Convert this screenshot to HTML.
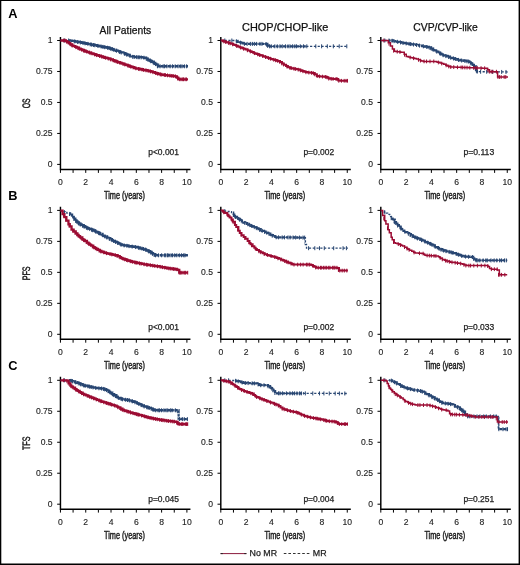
<!DOCTYPE html>
<html><head><meta charset="utf-8"><style>
html,body{margin:0;padding:0;background:#fff;}
body{width:520px;height:565px;overflow:hidden;font-family:"Liberation Sans",sans-serif;}
svg{display:block;will-change:transform;filter:blur(0.3px);}
</style></head><body>
<svg width="520" height="565" viewBox="0 0 520 565"><defs><clipPath id="cp00"><rect x="69" y="30.5" width="119" height="140"/></clipPath><clipPath id="cp01"><rect x="236" y="30.5" width="70" height="140"/></clipPath><clipPath id="cp02"><rect x="389" y="30.5" width="89" height="140"/></clipPath><clipPath id="cp10"><rect x="69" y="200.4" width="119" height="140"/></clipPath><clipPath id="cp11"><rect x="233" y="200.4" width="71.5" height="140"/></clipPath><clipPath id="cp12"><rect x="391" y="200.4" width="116.5" height="140"/></clipPath><clipPath id="cp20"><rect x="69" y="370.3" width="108.5" height="140"/><rect x="178.5" y="370.3" width="9.5" height="140"/></clipPath><clipPath id="cp21"><rect x="235" y="370.3" width="69" height="140"/></clipPath><clipPath id="cp22"><rect x="389" y="370.3" width="108" height="140"/><rect x="498.2" y="370.3" width="9.8" height="140"/></clipPath></defs><rect x="0" y="0" width="520" height="565" fill="#fff"/><path d="M0,0H520V565H0Z M1.3,1.1V563.4H518.6V1.1Z" fill="#000" fill-rule="evenodd"/><text x="8.2" y="18.2" font-family="'Liberation Sans', sans-serif" font-weight="bold" font-size="12.8">A</text><text x="8.2" y="199.6" font-family="'Liberation Sans', sans-serif" font-weight="bold" font-size="12.8">B</text><text x="8.2" y="369.8" font-family="'Liberation Sans', sans-serif" font-weight="bold" font-size="12.8">C</text><text x="99.6" y="33.9" font-family="'Liberation Sans', sans-serif" font-size="10.6" textLength="51.6" lengthAdjust="spacingAndGlyphs" fill="#111" stroke="#111" stroke-width="0.25">All Patients</text><text x="242.1" y="30.7" font-family="'Liberation Sans', sans-serif" font-size="10.6" textLength="86.2" lengthAdjust="spacingAndGlyphs" fill="#111" stroke="#111" stroke-width="0.25">CHOP/CHOP-like</text><text x="413.3" y="30.7" font-family="'Liberation Sans', sans-serif" font-size="10.6" textLength="64.4" lengthAdjust="spacingAndGlyphs" fill="#111" stroke="#111" stroke-width="0.25">CVP/CVP-like</text><g><path d="M60.45,36.9V169.5H190.45" fill="none" stroke="#000" stroke-width="1.45"/><path d="M57.15,40.5H60.45M57.15,71.47H60.45M57.15,102.45H60.45M57.15,133.43H60.45M57.15,164.4H60.45M60.45,169.5V172.9M73.09,169.5V172.9M85.74,169.5V172.9M98.39,169.5V172.9M111.03,169.5V172.9M123.67,169.5V172.9M136.32,169.5V172.9M148.97,169.5V172.9M161.61,169.5V172.9M174.25,169.5V172.9M186.9,169.5V172.9" fill="none" stroke="#000" stroke-width="1"/><text x="52.65" y="43.25" font-family="'Liberation Sans', sans-serif" font-size="8.6" text-anchor="end" fill="#222" stroke="#222" stroke-width="0.12">1</text><text x="52.65" y="74.22" font-family="'Liberation Sans', sans-serif" font-size="8.6" text-anchor="end" fill="#222" stroke="#222" stroke-width="0.12">0.75</text><text x="52.65" y="105.2" font-family="'Liberation Sans', sans-serif" font-size="8.6" text-anchor="end" fill="#222" stroke="#222" stroke-width="0.12">0.5</text><text x="52.65" y="136.18" font-family="'Liberation Sans', sans-serif" font-size="8.6" text-anchor="end" fill="#222" stroke="#222" stroke-width="0.12">0.25</text><text x="52.65" y="167.15" font-family="'Liberation Sans', sans-serif" font-size="8.6" text-anchor="end" fill="#222" stroke="#222" stroke-width="0.12">0</text><text x="60.45" y="184.8" font-family="'Liberation Sans', sans-serif" font-size="8.6" text-anchor="middle" fill="#222" stroke="#222" stroke-width="0.12">0</text><text x="85.74" y="184.8" font-family="'Liberation Sans', sans-serif" font-size="8.6" text-anchor="middle" fill="#222" stroke="#222" stroke-width="0.12">2</text><text x="111.03" y="184.8" font-family="'Liberation Sans', sans-serif" font-size="8.6" text-anchor="middle" fill="#222" stroke="#222" stroke-width="0.12">4</text><text x="136.32" y="184.8" font-family="'Liberation Sans', sans-serif" font-size="8.6" text-anchor="middle" fill="#222" stroke="#222" stroke-width="0.12">6</text><text x="161.61" y="184.8" font-family="'Liberation Sans', sans-serif" font-size="8.6" text-anchor="middle" fill="#222" stroke="#222" stroke-width="0.12">8</text><text x="186.9" y="184.8" font-family="'Liberation Sans', sans-serif" font-size="8.6" text-anchor="middle" fill="#222" stroke="#222" stroke-width="0.12">10</text><text transform="translate(124.45,199.2) scale(0.705,1)" font-family="'Liberation Sans', sans-serif" font-size="10.4" text-anchor="middle" fill="#1a1a1a" stroke="#1a1a1a" stroke-width="0.45">Time (years)</text><text x="148.2" y="154.6" font-family="'Liberation Sans', sans-serif" font-size="8.6" textLength="30.8" lengthAdjust="spacingAndGlyphs" fill="#222" stroke="#222" stroke-width="0.25">p<0.001</text><path d="M60.45,40.5 L61.58,40.5 L63.63,40.5 L65.56,40.5 L66.85,40.5 L68.44,40.5 L69.98,40.5 L69.98,40.6 L71.77,40.6 L71.77,40.92 L73.74,40.92 L73.74,41.28 L74.82,41.28 L74.82,41.47 L75.82,41.47 L75.82,41.65 L77.85,41.65 L77.85,42.01 L79.36,42.01 L79.36,42.28 L81.3,42.28 L81.3,42.62 L82.26,42.62 L82.26,42.8 L83.79,42.8 L83.79,43.08 L85.68,43.08 L85.68,43.45 L86.93,43.45 L86.93,43.7 L89.1,43.7 L89.1,44.13 L91.21,44.13 L91.21,44.55 L92.21,44.55 L92.21,44.75 L93.2,44.75 L93.2,44.95 L94.86,44.95 L94.86,45.27 L97.02,45.27 L97.02,45.7 L98.47,45.7 L98.47,45.98 L99.7,45.98 L99.7,46.22 L101.21,46.22 L101.21,46.52 L102.2,46.52 L102.2,46.71 L103.45,46.71 L103.45,46.95 L104.97,46.95 L104.97,47.25 L106.56,47.25 L106.56,47.56 L107.82,47.56 L107.82,47.81 L109.08,47.81 L109.08,48.1 L110.32,48.1 L110.32,48.55 L111.86,48.55 L111.86,49.11 L113.19,49.11 L113.19,49.6 L114.18,49.6 L114.18,49.96 L116.21,49.96 L116.21,50.7 L117.89,50.7 L117.89,51.3 L119.67,51.3 L119.67,51.95 L120.87,51.95 L120.87,52.39 L123.1,52.39 L123.1,53.22 L125.16,53.22 L125.16,54 L126.27,54 L126.27,54.42 L127.66,54.42 L127.66,54.95 L129.54,54.95 L129.54,55.66 L131.41,55.66 L131.41,56.37 L133.57,56.37 L133.57,56.94 L135.07,56.94 L135.07,57.03 L137.09,57.03 L137.09,57.14 L138.91,57.14 L138.91,57.24 L140.26,57.24 L140.26,57.32 L141.97,57.32 L141.97,57.41 L144.06,57.41 L144.06,57.78 L146.1,57.78 L146.1,58.78 L147.71,58.78 L147.71,59.57 L149.43,59.57 L149.43,60.46 L150.43,60.46 L150.43,61.06 L151.7,61.06 L151.7,61.82 L153.68,61.82 L153.68,63.01 L155.17,63.01 L155.17,63.9 L156.35,63.9 L156.35,64.61 L158.01,64.61 L158.01,66.3 L159.87,66.3 L161.7,66.3 L163.14,66.3 L164.66,66.3 L166.27,66.3 L168.23,66.3 L169.85,66.3 L171.32,66.3 L172.9,66.3 L173.9,66.3 L174.92,66.3 L176.78,66.3 L179,66.3 L180.72,66.3 L182.18,66.3 L183.36,66.3 L184.96,66.3 L187.18,66.3 L188,66.3" fill="none" stroke="#284672" stroke-width="1.3" stroke-dasharray="2.2,1.6"/><path d="M60.45,40.5 L61.58,40.5 L63.63,40.5 L65.56,40.5 L66.85,40.5 L68.44,40.5 L69.98,40.5 L69.98,40.6 L71.77,40.6 L71.77,40.92 L73.74,40.92 L73.74,41.28 L74.82,41.28 L74.82,41.47 L75.82,41.47 L75.82,41.65 L77.85,41.65 L77.85,42.01 L79.36,42.01 L79.36,42.28 L81.3,42.28 L81.3,42.62 L82.26,42.62 L82.26,42.8 L83.79,42.8 L83.79,43.08 L85.68,43.08 L85.68,43.45 L86.93,43.45 L86.93,43.7 L89.1,43.7 L89.1,44.13 L91.21,44.13 L91.21,44.55 L92.21,44.55 L92.21,44.75 L93.2,44.75 L93.2,44.95 L94.86,44.95 L94.86,45.27 L97.02,45.27 L97.02,45.7 L98.47,45.7 L98.47,45.98 L99.7,45.98 L99.7,46.22 L101.21,46.22 L101.21,46.52 L102.2,46.52 L102.2,46.71 L103.45,46.71 L103.45,46.95 L104.97,46.95 L104.97,47.25 L106.56,47.25 L106.56,47.56 L107.82,47.56 L107.82,47.81 L109.08,47.81 L109.08,48.1 L110.32,48.1 L110.32,48.55 L111.86,48.55 L111.86,49.11 L113.19,49.11 L113.19,49.6 L114.18,49.6 L114.18,49.96 L116.21,49.96 L116.21,50.7 L117.89,50.7 L117.89,51.3 L119.67,51.3 L119.67,51.95 L120.87,51.95 L120.87,52.39 L123.1,52.39 L123.1,53.22 L125.16,53.22 L125.16,54 L126.27,54 L126.27,54.42 L127.66,54.42 L127.66,54.95 L129.54,54.95 L129.54,55.66 L131.41,55.66 L131.41,56.37 L133.57,56.37 L133.57,56.94 L135.07,56.94 L135.07,57.03 L137.09,57.03 L137.09,57.14 L138.91,57.14 L138.91,57.24 L140.26,57.24 L140.26,57.32 L141.97,57.32 L141.97,57.41 L144.06,57.41 L144.06,57.78 L146.1,57.78 L146.1,58.78 L147.71,58.78 L147.71,59.57 L149.43,59.57 L149.43,60.46 L150.43,60.46 L150.43,61.06 L151.7,61.06 L151.7,61.82 L153.68,61.82 L153.68,63.01 L155.17,63.01 L155.17,63.9 L156.35,63.9 L156.35,64.61 L158.01,64.61 L158.01,66.3 L159.87,66.3 L161.7,66.3 L163.14,66.3 L164.66,66.3 L166.27,66.3 L168.23,66.3 L169.85,66.3 L171.32,66.3 L172.9,66.3 L173.9,66.3 L174.92,66.3 L176.78,66.3 L179,66.3 L180.72,66.3 L182.18,66.3 L183.36,66.3 L184.96,66.3 L187.18,66.3 L188,66.3" fill="none" stroke="#284672" stroke-width="2.4" stroke-dasharray="3,0.6" clip-path="url(#cp00)"/><path d="M64.45,38.5v4.0M68.65,38.5v4.0M74.85,39.47v4.0M77.65,39.97v4.0M80.3,40.45v4.0M83.01,40.93v4.0M85.07,41.33v4.0M87.93,41.9v4.0M90.2,42.35v4.0M91.47,42.6v4.0M93.58,43.02v4.0M94.78,43.26v4.0M97.94,43.88v4.0M101.12,44.5v4.0M102.96,44.86v4.0M104.74,45.21v4.0M107.53,45.75v4.0M109.08,46.1v4.0M110.57,46.64v4.0M112.08,47.19v4.0M113.95,47.87v4.0M116.42,48.77v4.0M119.64,49.94v4.0M121.21,50.51v4.0M124.41,51.72v4.0M126.73,52.6v4.0M129.82,53.77v4.0M132.72,54.87v4.0M134.17,54.98v4.0M136.69,55.12v4.0M138.07,55.2v4.0M139.18,55.26v4.0M141.15,55.37v4.0M143.95,55.72v4.0M146.3,56.87v4.0M147.82,57.62v4.0M150.77,59.26v4.0M153.88,61.13v4.0M155.5,62.1v4.0M157.59,64.3v4.0M160.09,64.3v4.0M163.18,64.3v4.0M164.56,64.3v4.0M166.88,64.3v4.0M170.11,64.3v4.0M172.55,64.3v4.0M175.22,64.3v4.0M178.03,64.3v4.0M180.25,64.3v4.0M181.98,64.3v4.0M184.38,64.3v4.0M186.64,64.3v4.0" fill="none" stroke="#284672" stroke-width="1"/><path d="M60.45,40.5 L62.49,40.5 L64.42,40.5 L65.92,40.5 L65.92,41.16 L67.21,41.16 L67.21,42.08 L68.83,42.08 L68.83,43.23 L70.3,43.23 L70.3,44.29 L72.27,44.29 L72.27,45.62 L73.62,45.62 L73.62,46.22 L75.19,46.22 L75.19,46.92 L76.89,46.92 L76.89,47.69 L79.01,47.69 L79.01,48.64 L80.62,48.64 L80.62,49.36 L81.94,49.36 L81.94,49.95 L83.87,49.95 L83.87,50.76 L85.62,50.76 L85.62,51.38 L86.9,51.38 L86.9,51.82 L89.03,51.82 L89.03,52.56 L91.24,52.56 L91.24,53.34 L93.24,53.34 L93.24,54.04 L95.35,54.04 L95.35,54.77 L96.71,54.77 L96.71,55.21 L98.61,55.21 L98.61,55.77 L100.72,55.77 L100.72,56.4 L102.55,56.4 L102.55,56.95 L104.12,56.95 L104.12,57.41 L105.21,57.41 L105.21,57.73 L106.72,57.73 L106.72,58.18 L108.46,58.18 L108.46,58.7 L110.59,58.7 L110.59,59.45 L112.79,59.45 L112.79,60.25 L114.36,60.25 L114.36,60.82 L116.43,60.82 L116.43,61.57 L117.72,61.57 L117.72,62.04 L119.71,62.04 L119.71,62.77 L121.37,62.77 L121.37,63.37 L122.35,63.37 L122.35,63.72 L124.23,63.72 L124.23,64.38 L125.7,64.38 L125.7,64.89 L127.72,64.89 L127.72,65.59 L129.53,65.59 L129.53,66.22 L130.5,66.22 L130.5,66.56 L132.09,66.56 L132.09,67.11 L134.16,67.11 L134.16,67.83 L135.43,67.83 L135.43,68.28 L136.81,68.28 L136.81,68.56 L138.88,68.56 L138.88,68.98 L140.08,68.98 L140.08,69.22 L141.77,69.22 L141.77,69.55 L143.04,69.55 L143.04,69.81 L145.24,69.81 L145.24,70.25 L147.22,70.25 L147.22,70.64 L148.76,70.64 L148.76,70.95 L149.82,70.95 L149.82,71.26 L151.19,71.26 L151.19,71.7 L152.8,71.7 L152.8,72.21 L154.95,72.21 L154.95,72.89 L156.05,72.89 L156.05,73.24 L157.72,73.24 L157.72,73.77 L159.58,73.77 L159.58,74.36 L161.24,74.36 L161.24,74.59 L163.25,74.59 L163.25,74.84 L164.9,74.84 L164.9,75.05 L167.09,75.05 L167.09,75.32 L168.82,75.32 L168.82,75.53 L170.54,75.53 L170.54,75.75 L172.07,75.75 L172.07,75.94 L173.79,75.94 L173.79,76.15 L175.24,76.15 L175.24,76.33 L176.94,76.33 L176.94,77.62 L178.27,77.62 L178.27,79.05 L179.47,79.05 L179.47,79.3 L180.67,79.3 L182.42,79.3 L184.22,79.3 L185.79,79.3 L186.86,79.3 L188,79.3" fill="none" stroke="#9C0C33" stroke-width="2.3"/><path d="M63.45,38.6v3.8M64.99,38.6v3.8M66.97,40.01v3.8M70.35,42.42v3.8M72.12,43.65v3.8M75.85,45.32v3.8M77.92,46.25v3.8M79.29,46.86v3.8M81.79,47.98v3.8M83.55,48.75v3.8M84.91,49.23v3.8M86.94,49.93v3.8M89.42,50.8v3.8M91.19,51.42v3.8M94.63,52.62v3.8M96.63,53.29v3.8M99.62,54.17v3.8M101.71,54.79v3.8M103.17,55.23v3.8M105.43,55.9v3.8M108.27,56.74v3.8M110.6,57.56v3.8M113.28,58.53v3.8M114.72,59.05v3.8M116.19,59.59v3.8M117.63,60.11v3.8M119.87,60.93v3.8M122.93,62.02v3.8M124.88,62.7v3.8M127.78,63.71v3.8M129.1,64.17v3.8M130.66,64.72v3.8M133.16,65.59v3.8M135.87,66.47v3.8M138.56,67.01v3.8M139.89,67.28v3.8M142.01,67.7v3.8M143.5,68v3.8M146,68.5v3.8M148.13,68.93v3.8M150.45,69.56v3.8M152.93,70.35v3.8M155.75,71.25v3.8M157.57,71.82v3.8M160.34,72.58v3.8M161.78,72.76v3.8M164.28,73.07v3.8M165.36,73.2v3.8M167.52,73.47v3.8M169.97,73.78v3.8M171.79,74v3.8M173.26,74.18v3.8M175.5,74.46v3.8M177.7,76.54v3.8M179.7,77.4v3.8M181.07,77.4v3.8M182.71,77.4v3.8M183.51,77.4v3.8M185.14,77.4v3.8M186.41,77.4v3.8" fill="none" stroke="#9C0C33" stroke-width="1"/></g><g><path d="M220.8,36.9V169.5H350.8" fill="none" stroke="#000" stroke-width="1.45"/><path d="M217.5,40.5H220.8M217.5,71.47H220.8M217.5,102.45H220.8M217.5,133.43H220.8M217.5,164.4H220.8M220.8,169.5V172.9M233.45,169.5V172.9M246.09,169.5V172.9M258.74,169.5V172.9M271.38,169.5V172.9M284.02,169.5V172.9M296.67,169.5V172.9M309.31,169.5V172.9M321.96,169.5V172.9M334.61,169.5V172.9M347.25,169.5V172.9" fill="none" stroke="#000" stroke-width="1"/><text x="213" y="43.25" font-family="'Liberation Sans', sans-serif" font-size="8.6" text-anchor="end" fill="#222" stroke="#222" stroke-width="0.12">1</text><text x="213" y="74.22" font-family="'Liberation Sans', sans-serif" font-size="8.6" text-anchor="end" fill="#222" stroke="#222" stroke-width="0.12">0.75</text><text x="213" y="105.2" font-family="'Liberation Sans', sans-serif" font-size="8.6" text-anchor="end" fill="#222" stroke="#222" stroke-width="0.12">0.5</text><text x="213" y="136.18" font-family="'Liberation Sans', sans-serif" font-size="8.6" text-anchor="end" fill="#222" stroke="#222" stroke-width="0.12">0.25</text><text x="213" y="167.15" font-family="'Liberation Sans', sans-serif" font-size="8.6" text-anchor="end" fill="#222" stroke="#222" stroke-width="0.12">0</text><text x="220.8" y="184.8" font-family="'Liberation Sans', sans-serif" font-size="8.6" text-anchor="middle" fill="#222" stroke="#222" stroke-width="0.12">0</text><text x="246.09" y="184.8" font-family="'Liberation Sans', sans-serif" font-size="8.6" text-anchor="middle" fill="#222" stroke="#222" stroke-width="0.12">2</text><text x="271.38" y="184.8" font-family="'Liberation Sans', sans-serif" font-size="8.6" text-anchor="middle" fill="#222" stroke="#222" stroke-width="0.12">4</text><text x="296.67" y="184.8" font-family="'Liberation Sans', sans-serif" font-size="8.6" text-anchor="middle" fill="#222" stroke="#222" stroke-width="0.12">6</text><text x="321.96" y="184.8" font-family="'Liberation Sans', sans-serif" font-size="8.6" text-anchor="middle" fill="#222" stroke="#222" stroke-width="0.12">8</text><text x="347.25" y="184.8" font-family="'Liberation Sans', sans-serif" font-size="8.6" text-anchor="middle" fill="#222" stroke="#222" stroke-width="0.12">10</text><text transform="translate(284.8,199.2) scale(0.705,1)" font-family="'Liberation Sans', sans-serif" font-size="10.4" text-anchor="middle" fill="#1a1a1a" stroke="#1a1a1a" stroke-width="0.45">Time (years)</text><text x="303.4" y="154.6" font-family="'Liberation Sans', sans-serif" font-size="8.6" textLength="30.8" lengthAdjust="spacingAndGlyphs" fill="#222" stroke="#222" stroke-width="0.25">p=0.002</text><path d="M220.8,40.5 L222.06,40.5 L223.72,40.5 L225.15,40.5 L226.89,40.5 L228.65,40.5 L229.69,40.5 L230.67,40.5 L232.7,40.5 L233.99,40.5 L235.25,40.5 L235.25,40.86 L237.49,40.86 L237.49,41.84 L239.05,41.84 L239.05,42.29 L241.08,42.29 L241.08,42.88 L242.65,42.88 L242.65,43.34 L244.43,43.34 L244.43,43.85 L245.58,43.85 L247.35,43.9 L249.42,43.9 L251.05,43.9 L252.96,43.9 L254.78,43.9 L255.82,43.9 L257.75,43.9 L259.47,43.9 L260.82,43.9 L261.82,43.9 L263.88,43.9 L265.45,43.9 L267.33,43.9 L267.33,45.5 L269.41,45.5 L269.41,46.3 L271.29,46.3 L273.43,46.3 L274.89,46.3 L276.88,46.3 L278.41,46.3 L280.57,46.3 L282.65,46.3 L283.74,46.3 L284.87,46.3 L286.11,46.3 L288.3,46.3 L289.82,46.3 L291.58,46.3 L292.93,46.3 L294.54,46.3 L295.99,46.3 L297.4,46.3 L299.11,46.3 L300.82,46.3 L302.93,46.3 L304.77,46.3 L306.92,46.3 L308.97,46.3 L311.2,46.3 L313.02,46.3 L314.19,46.3 L316.25,46.3 L318.45,46.3 L320.56,46.3 L322.25,46.3 L324.13,46.3 L325.36,46.3 L327.38,46.3 L329.07,46.3 L330.4,46.3 L331.44,46.3 L333.49,46.3 L335.72,46.3 L336.79,46.3 L338.78,46.3 L340.26,46.3 L341.42,46.3 L342.75,46.3 L344.7,46.3 L346.77,46.3 L347.79,46.3 L348,46.3" fill="none" stroke="#284672" stroke-width="1.3" stroke-dasharray="2.2,1.6"/><path d="M220.8,40.5 L222.06,40.5 L223.72,40.5 L225.15,40.5 L226.89,40.5 L228.65,40.5 L229.69,40.5 L230.67,40.5 L232.7,40.5 L233.99,40.5 L235.25,40.5 L235.25,40.86 L237.49,40.86 L237.49,41.84 L239.05,41.84 L239.05,42.29 L241.08,42.29 L241.08,42.88 L242.65,42.88 L242.65,43.34 L244.43,43.34 L244.43,43.85 L245.58,43.85 L247.35,43.9 L249.42,43.9 L251.05,43.9 L252.96,43.9 L254.78,43.9 L255.82,43.9 L257.75,43.9 L259.47,43.9 L260.82,43.9 L261.82,43.9 L263.88,43.9 L265.45,43.9 L267.33,43.9 L267.33,45.5 L269.41,45.5 L269.41,46.3 L271.29,46.3 L273.43,46.3 L274.89,46.3 L276.88,46.3 L278.41,46.3 L280.57,46.3 L282.65,46.3 L283.74,46.3 L284.87,46.3 L286.11,46.3 L288.3,46.3 L289.82,46.3 L291.58,46.3 L292.93,46.3 L294.54,46.3 L295.99,46.3 L297.4,46.3 L299.11,46.3 L300.82,46.3 L302.93,46.3 L304.77,46.3 L306.92,46.3 L308.97,46.3 L311.2,46.3 L313.02,46.3 L314.19,46.3 L316.25,46.3 L318.45,46.3 L320.56,46.3 L322.25,46.3 L324.13,46.3 L325.36,46.3 L327.38,46.3 L329.07,46.3 L330.4,46.3 L331.44,46.3 L333.49,46.3 L335.72,46.3 L336.79,46.3 L338.78,46.3 L340.26,46.3 L341.42,46.3 L342.75,46.3 L344.7,46.3 L346.77,46.3 L347.79,46.3 L348,46.3" fill="none" stroke="#284672" stroke-width="2.3" stroke-dasharray="2.4,1.0" clip-path="url(#cp01)"/><path d="M224.8,38.5v4.0M231.83,38.5v4.0M236.34,39.38v4.0M240.45,40.7v4.0M244.43,41.85v4.0M247.14,41.9v4.0M250.4,41.9v4.0M252.4,41.9v4.0M254.42,41.9v4.0M256.63,41.9v4.0M259.97,41.9v4.0M261.96,41.9v4.0M266.08,42v4.0M267.68,43.91v4.0M269.62,44.3v4.0M271.27,44.3v4.0M274.82,44.3v4.0M277.25,44.3v4.0M279.97,44.3v4.0M282.28,44.3v4.0M285.47,44.3v4.0M288,44.3v4.0M289.98,44.3v4.0M292.59,44.3v4.0M294.84,44.3v4.0M296.55,44.3v4.0M300.25,44.3v4.0M303.56,44.3v4.0M306.82,44.3v4.0M315.81,44.3v4.0M321.62,44.3v4.0M327.34,44.3v4.0M333.34,44.3v4.0M339.22,44.3v4.0M346.81,44.3v4.0" fill="none" stroke="#284672" stroke-width="1"/><path d="M220.8,40.5 L222.98,40.5 L222.98,41.18 L225.16,41.18 L225.16,41.86 L226.19,41.86 L226.19,42.19 L227.26,42.19 L227.26,42.52 L229.29,42.52 L229.29,43.16 L231.19,43.16 L231.19,43.8 L233.01,43.8 L233.01,44.53 L234.36,44.53 L234.36,45.07 L236.1,45.07 L236.1,45.77 L237.83,45.77 L237.83,46.46 L239.54,46.46 L239.54,47.15 L240.7,47.15 L240.7,47.62 L242.21,47.62 L242.21,48.22 L243.68,48.22 L243.68,48.81 L245.56,48.81 L245.56,49.57 L247.79,49.57 L247.79,50.48 L249.97,50.48 L249.97,51.36 L251.63,51.36 L251.63,52.03 L253.16,52.03 L253.16,52.65 L254.46,52.65 L254.46,53.18 L255.46,53.18 L255.46,53.58 L256.46,53.58 L256.46,53.96 L258.01,53.96 L258.01,54.49 L259.38,54.49 L259.38,54.96 L260.83,54.96 L260.83,55.46 L262.93,55.46 L262.93,56.18 L264.56,56.18 L264.56,56.74 L266.24,56.74 L266.24,57.32 L267.5,57.32 L267.5,57.75 L268.49,57.75 L268.49,58.09 L269.87,58.09 L269.87,58.54 L271,58.54 L271,58.89 L272.62,58.89 L272.62,59.4 L274.86,59.4 L274.86,60.1 L276.68,60.1 L276.68,60.67 L277.87,60.67 L277.87,61.05 L279.98,61.05 L279.98,62.12 L281.96,62.12 L281.96,63.57 L283.86,63.57 L283.86,64.71 L285.98,64.71 L285.98,65.97 L287.91,65.97 L287.91,67.13 L289.88,67.13 L289.88,67.85 L291.3,67.85 L291.3,68.16 L293.51,68.16 L293.51,68.63 L295.7,68.63 L295.7,69.11 L296.87,69.11 L296.87,69.36 L298.79,69.36 L298.79,69.87 L300.67,69.87 L300.67,70.5 L302.22,70.5 L302.22,71.02 L303.86,71.02 L303.86,71.58 L305.45,71.58 L305.45,72.11 L307.59,72.11 L307.59,72.46 L309.19,72.46 L309.19,72.62 L311.22,72.62 L311.22,72.82 L312.63,72.82 L312.63,72.96 L314.72,72.96 L314.72,74.33 L316.83,74.33 L316.83,75.97 L318.38,75.97 L318.38,76.23 L320.07,76.23 L320.07,76.39 L322.21,76.39 L322.21,76.6 L324.09,76.6 L324.09,76.78 L325.67,76.78 L325.67,76.93 L326.92,76.93 L326.92,77.36 L328.29,77.36 L328.29,78.31 L330.15,78.31 L330.15,78.83 L331.32,78.83 L333.44,78.86 L333.44,78.91 L334.75,78.91 L336.87,78.94 L336.87,78.99 L338.23,78.99 L338.23,80.43 L340.42,80.43 L340.42,80.8 L342.28,80.8 L343.89,80.8 L345.51,80.8 L347.3,80.8 L348,80.8" fill="none" stroke="#9C0C33" stroke-width="2.0"/><path d="M223.8,39.54v3.8M225.7,40.13v3.8M228.44,40.99v3.8M230.09,41.51v3.8M232.65,42.48v3.8M236.7,44.11v3.8M240.5,45.64v3.8M243.55,46.86v3.8M247.43,48.43v3.8M250.34,49.61v3.8M254.46,51.28v3.8M257.75,52.5v3.8M259.62,53.15v3.8M262.72,54.21v3.8M265.52,55.17v3.8M268.45,56.18v3.8M270.45,56.82v3.8M273.76,57.86v3.8M275.64,58.45v3.8M277.81,59.13v3.8M279.79,60.08v3.8M281.83,61.57v3.8M283.62,62.67v3.8M286.89,64.62v3.8M289.89,65.95v3.8M291.23,66.24v3.8M293.94,66.83v3.8M295.37,67.13v3.8M298.19,67.76v3.8M300.4,68.51v3.8M302.89,69.35v3.8M305.89,70.36v3.8M308.87,70.69v3.8M311.59,70.96v3.8M313.39,71.4v3.8M314.73,72.44v3.8M317.14,74.21v3.8M319.42,74.43v3.8M322.44,74.72v3.8M325.39,75v3.8M326.83,75.4v3.8M328.72,76.71v3.8M331.21,76.95v3.8M333.07,77v3.8M336.01,77.07v3.8M337.02,77.1v3.8M338.81,78.9v3.8M341.4,78.9v3.8M344.16,78.9v3.8M346.03,78.9v3.8M347.42,78.9v3.8" fill="none" stroke="#9C0C33" stroke-width="1"/></g><g><path d="M380.8,36.9V169.5H510.8" fill="none" stroke="#000" stroke-width="1.45"/><path d="M377.5,40.5H380.8M377.5,71.47H380.8M377.5,102.45H380.8M377.5,133.43H380.8M377.5,164.4H380.8M380.8,169.5V172.9M393.44,169.5V172.9M406.09,169.5V172.9M418.74,169.5V172.9M431.38,169.5V172.9M444.02,169.5V172.9M456.67,169.5V172.9M469.31,169.5V172.9M481.96,169.5V172.9M494.61,169.5V172.9M507.25,169.5V172.9" fill="none" stroke="#000" stroke-width="1"/><text x="373" y="43.25" font-family="'Liberation Sans', sans-serif" font-size="8.6" text-anchor="end" fill="#222" stroke="#222" stroke-width="0.12">1</text><text x="373" y="74.22" font-family="'Liberation Sans', sans-serif" font-size="8.6" text-anchor="end" fill="#222" stroke="#222" stroke-width="0.12">0.75</text><text x="373" y="105.2" font-family="'Liberation Sans', sans-serif" font-size="8.6" text-anchor="end" fill="#222" stroke="#222" stroke-width="0.12">0.5</text><text x="373" y="136.18" font-family="'Liberation Sans', sans-serif" font-size="8.6" text-anchor="end" fill="#222" stroke="#222" stroke-width="0.12">0.25</text><text x="373" y="167.15" font-family="'Liberation Sans', sans-serif" font-size="8.6" text-anchor="end" fill="#222" stroke="#222" stroke-width="0.12">0</text><text x="380.8" y="184.8" font-family="'Liberation Sans', sans-serif" font-size="8.6" text-anchor="middle" fill="#222" stroke="#222" stroke-width="0.12">0</text><text x="406.09" y="184.8" font-family="'Liberation Sans', sans-serif" font-size="8.6" text-anchor="middle" fill="#222" stroke="#222" stroke-width="0.12">2</text><text x="431.38" y="184.8" font-family="'Liberation Sans', sans-serif" font-size="8.6" text-anchor="middle" fill="#222" stroke="#222" stroke-width="0.12">4</text><text x="456.67" y="184.8" font-family="'Liberation Sans', sans-serif" font-size="8.6" text-anchor="middle" fill="#222" stroke="#222" stroke-width="0.12">6</text><text x="481.96" y="184.8" font-family="'Liberation Sans', sans-serif" font-size="8.6" text-anchor="middle" fill="#222" stroke="#222" stroke-width="0.12">8</text><text x="507.25" y="184.8" font-family="'Liberation Sans', sans-serif" font-size="8.6" text-anchor="middle" fill="#222" stroke="#222" stroke-width="0.12">10</text><text transform="translate(444.8,199.2) scale(0.705,1)" font-family="'Liberation Sans', sans-serif" font-size="10.4" text-anchor="middle" fill="#1a1a1a" stroke="#1a1a1a" stroke-width="0.45">Time (years)</text><text x="463.4" y="154.6" font-family="'Liberation Sans', sans-serif" font-size="8.6" textLength="30.8" lengthAdjust="spacingAndGlyphs" fill="#222" stroke="#222" stroke-width="0.25">p=0.113</text><path d="M380.8,40.5 L382.56,40.5 L384.47,40.5 L386.44,40.5 L388.61,40.5 L390.52,40.5 L392.66,40.5 L392.66,40.89 L393.66,40.89 L393.66,41.08 L395.21,41.08 L395.21,41.39 L397.38,41.39 L397.38,41.81 L399.17,41.81 L399.17,42.17 L401.28,42.17 L401.28,42.58 L402.39,42.58 L402.39,42.8 L403.95,42.8 L403.95,43.08 L405.22,43.08 L405.22,43.28 L406.88,43.28 L406.88,43.52 L408.57,43.52 L408.57,43.78 L409.55,43.78 L409.55,43.93 L410.79,43.93 L410.79,44.11 L412.11,44.11 L412.11,44.31 L414.24,44.31 L414.24,44.63 L416.18,44.63 L416.18,44.94 L417.34,44.94 L417.34,45.16 L419.32,45.16 L419.32,45.55 L420.46,45.55 L420.46,45.77 L422.21,45.77 L422.21,46.11 L423.33,46.11 L423.33,46.33 L424.3,46.33 L424.3,46.52 L426.37,46.52 L426.37,46.93 L427.6,46.93 L427.6,47.17 L428.84,47.17 L428.84,47.42 L431.05,47.42 L431.05,48.56 L433.13,48.56 L433.13,49.63 L434.46,49.63 L434.46,50.32 L436.65,50.32 L436.65,51.59 L438.3,51.59 L438.3,52.58 L440.13,52.58 L440.13,53.68 L441.35,53.68 L441.35,54.41 L443.52,54.41 L443.52,55.31 L445.36,55.31 L445.36,55.93 L447.56,55.93 L447.56,56.68 L449.66,56.68 L449.66,57.39 L451,57.39 L451,57.79 L452.43,57.79 L452.43,58.19 L453.6,58.19 L453.6,58.52 L454.74,58.52 L454.74,58.85 L455.79,58.85 L455.79,59.14 L457.13,59.14 L457.13,59.53 L458.87,59.53 L458.87,60.02 L459.83,60.02 L459.83,60.25 L461.66,60.25 L461.66,60.52 L463.05,60.52 L463.05,60.72 L464.41,60.72 L464.41,60.92 L466.41,60.92 L466.41,61.22 L467.99,61.22 L467.99,61.45 L469.35,61.45 L469.35,61.9 L470.93,61.9 L470.93,63.24 L472.79,63.24 L472.79,64.82 L473.83,64.82 L473.83,66.38 L476.03,66.38 L476.03,70.08 L477.02,70.08 L477.02,71.7 L478.94,71.7 L480.98,71.72 L481.97,71.74 L483.94,71.75 L485.36,71.77 L487.06,71.78 L488.04,71.8 L489.06,71.81 L490.25,71.82 L492.43,71.83 L493.64,71.85 L495.57,71.86 L497.72,71.88 L499.88,71.9 L501.29,71.92 L502.7,71.94 L504.33,71.95 L506.28,71.96 L507.38,71.98 L508,71.99" fill="none" stroke="#284672" stroke-width="1.3" stroke-dasharray="2.2,1.6"/><path d="M380.8,40.5 L382.56,40.5 L384.47,40.5 L386.44,40.5 L388.61,40.5 L390.52,40.5 L392.66,40.5 L392.66,40.89 L393.66,40.89 L393.66,41.08 L395.21,41.08 L395.21,41.39 L397.38,41.39 L397.38,41.81 L399.17,41.81 L399.17,42.17 L401.28,42.17 L401.28,42.58 L402.39,42.58 L402.39,42.8 L403.95,42.8 L403.95,43.08 L405.22,43.08 L405.22,43.28 L406.88,43.28 L406.88,43.52 L408.57,43.52 L408.57,43.78 L409.55,43.78 L409.55,43.93 L410.79,43.93 L410.79,44.11 L412.11,44.11 L412.11,44.31 L414.24,44.31 L414.24,44.63 L416.18,44.63 L416.18,44.94 L417.34,44.94 L417.34,45.16 L419.32,45.16 L419.32,45.55 L420.46,45.55 L420.46,45.77 L422.21,45.77 L422.21,46.11 L423.33,46.11 L423.33,46.33 L424.3,46.33 L424.3,46.52 L426.37,46.52 L426.37,46.93 L427.6,46.93 L427.6,47.17 L428.84,47.17 L428.84,47.42 L431.05,47.42 L431.05,48.56 L433.13,48.56 L433.13,49.63 L434.46,49.63 L434.46,50.32 L436.65,50.32 L436.65,51.59 L438.3,51.59 L438.3,52.58 L440.13,52.58 L440.13,53.68 L441.35,53.68 L441.35,54.41 L443.52,54.41 L443.52,55.31 L445.36,55.31 L445.36,55.93 L447.56,55.93 L447.56,56.68 L449.66,56.68 L449.66,57.39 L451,57.39 L451,57.79 L452.43,57.79 L452.43,58.19 L453.6,58.19 L453.6,58.52 L454.74,58.52 L454.74,58.85 L455.79,58.85 L455.79,59.14 L457.13,59.14 L457.13,59.53 L458.87,59.53 L458.87,60.02 L459.83,60.02 L459.83,60.25 L461.66,60.25 L461.66,60.52 L463.05,60.52 L463.05,60.72 L464.41,60.72 L464.41,60.92 L466.41,60.92 L466.41,61.22 L467.99,61.22 L467.99,61.45 L469.35,61.45 L469.35,61.9 L470.93,61.9 L470.93,63.24 L472.79,63.24 L472.79,64.82 L473.83,64.82 L473.83,66.38 L476.03,66.38 L476.03,70.08 L477.02,70.08 L477.02,71.7 L478.94,71.7 L480.98,71.72 L481.97,71.74 L483.94,71.75 L485.36,71.77 L487.06,71.78 L488.04,71.8 L489.06,71.81 L490.25,71.82 L492.43,71.83 L493.64,71.85 L495.57,71.86 L497.72,71.88 L499.88,71.9 L501.29,71.92 L502.7,71.94 L504.33,71.95 L506.28,71.96 L507.38,71.98 L508,71.99" fill="none" stroke="#284672" stroke-width="2.3" stroke-dasharray="2.6,0.9" clip-path="url(#cp02)"/><path d="M384.8,38.5v4.0M389.01,38.5v4.0M392.14,38.78v4.0M394.01,39.15v4.0M397.41,39.82v4.0M400.51,40.43v4.0M402.99,40.92v4.0M406.12,41.41v4.0M409.1,41.86v4.0M410.62,42.09v4.0M413.51,42.52v4.0M416.64,43.03v4.0M419.5,43.58v4.0M423.36,44.34v4.0M426.82,45.01v4.0M429.27,45.64v4.0M431.31,46.69v4.0M433.07,47.6v4.0M436.74,49.64v4.0M440.07,51.64v4.0M443.17,53.2v4.0M445.81,54.09v4.0M448.61,55.03v4.0M450.63,55.68v4.0M453.52,56.5v4.0M455.33,57.01v4.0M458.47,57.91v4.0M461.63,58.51v4.0M464.91,59v4.0M467,59.3v4.0M468.65,59.55v4.0M470.99,61.29v4.0M474.31,65.2v4.0M477.14,69.7v4.0M480.63,69.74v4.0M486.69,69.79v4.0M492.52,69.85v4.0M501.67,69.94v4.0M506.01,69.98v4.0" fill="none" stroke="#284672" stroke-width="1"/><path d="M380.8,40.5 L382.06,40.5 L383.15,40.5 L384.62,40.5 L385.78,40.5 L386.82,40.5 L388.3,40.5 L388.3,42.64 L390.43,42.64 L390.43,45.9 L392.42,45.9 L392.42,48.94 L394.36,48.94 L394.36,51.26 L395.6,51.26 L395.6,51.43 L397.25,51.43 L397.25,51.66 L398.56,51.66 L398.56,51.84 L399.74,51.84 L399.74,52 L400.84,52 L400.84,52.15 L402.07,52.15 L402.07,52.32 L404.22,52.32 L404.22,54.14 L406.24,54.14 L406.24,56.52 L408.23,56.52 L408.23,56.99 L410.22,56.99 L410.22,57.45 L411.43,57.45 L411.43,57.73 L412.78,57.73 L412.78,58.05 L414.55,58.05 L414.55,58.46 L416.44,58.46 L416.44,58.98 L418.5,58.98 L418.5,59.81 L420.58,59.81 L420.58,60.66 L421.65,60.66 L421.65,61.1 L423.39,61.1 L423.39,61.4 L425.21,61.4 L426.82,61.4 L428,61.4 L429.57,61.4 L430.65,61.4 L432.8,61.4 L434.87,61.4 L436.53,61.4 L436.53,61.88 L437.87,61.88 L437.87,62.3 L440,62.3 L440,62.97 L441.69,62.97 L441.69,63.5 L443.78,63.5 L443.78,64.36 L445.83,64.36 L445.83,65.23 L447.44,65.23 L447.44,65.91 L448.93,65.91 L448.93,66.54 L450.65,66.54 L450.65,67.02 L452.16,67.02 L452.16,67.08 L453.33,67.08 L454.68,67.12 L456.68,67.17 L456.68,67.24 L457.7,67.24 L458.72,67.27 L460.48,67.31 L460.48,67.37 L461.8,67.37 L463.44,67.42 L463.44,67.48 L465,67.48 L465,67.54 L466.4,67.54 L468.64,67.59 L468.64,67.67 L469.85,67.67 L471.34,67.71 L471.34,67.76 L472.56,67.76 L474.33,67.81 L474.33,67.87 L475.64,67.87 L477.06,67.92 L477.06,67.97 L478.97,67.97 L478.97,68.03 L480.34,68.03 L482.02,68.08 L482.02,68.14 L484.14,68.14 L484.14,68.22 L485.23,68.22 L486.26,68.26 L487.52,68.3 L487.52,69.76 L489.46,69.76 L489.46,71.7 L491.2,71.7 L492.47,71.7 L493.85,71.7 L495.04,71.7 L496.59,71.7 L497.6,71.7 L497.6,77 L499.45,77 L501.56,77 L503.74,77 L505.64,77 L507.83,77 L508,77" fill="none" stroke="#9C0C33" stroke-width="1.5"/><path d="M383.8,38.6v3.8M389,41.81v3.8M393.62,48.87v3.8M397.23,49.76v3.8M399.96,50.13v3.8M404.51,52.83v3.8M410.1,55.52v3.8M413.55,56.33v3.8M418.5,57.92v3.8M420.43,58.7v3.8M424.09,59.5v3.8M426.55,59.5v3.8M430,59.5v3.8M433.79,59.5v3.8M438.35,60.55v3.8M441.72,61.61v3.8M446.15,63.47v3.8M448.78,64.58v3.8M450.75,65.13v3.8M453.74,65.23v3.8M457.46,65.37v3.8M461.09,65.5v3.8M462.67,65.55v3.8M464.86,65.63v3.8M467.04,65.71v3.8M469.82,65.81v3.8M473.65,65.94v3.8M475.78,66.02v3.8M477.27,66.07v3.8M481.05,66.21v3.8M484.67,66.34v3.8M487.96,68.44v3.8M489.33,69.8v3.8M491.25,69.8v3.8M492.94,69.8v3.8M496.43,69.8v3.8M497.94,75.1v3.8M499.44,75.1v3.8M501.15,75.1v3.8M504.17,75.1v3.8M505.78,75.1v3.8" fill="none" stroke="#9C0C33" stroke-width="1"/></g><text transform="translate(29.6,103.45) rotate(-90) scale(0.63,1)" font-family="'Liberation Sans', sans-serif" font-size="10.8" text-rendering="geometricPrecision" text-anchor="middle" fill="#1a1a1a" stroke="#1a1a1a" stroke-width="0.45">OS</text><g><path d="M60.45,206.8V339.3H190.45" fill="none" stroke="#000" stroke-width="1.45"/><path d="M57.15,210.4H60.45M57.15,241.38H60.45M57.15,272.35H60.45M57.15,303.33H60.45M57.15,334.3H60.45M60.45,339.3V342.7M73.09,339.3V342.7M85.74,339.3V342.7M98.39,339.3V342.7M111.03,339.3V342.7M123.67,339.3V342.7M136.32,339.3V342.7M148.97,339.3V342.7M161.61,339.3V342.7M174.25,339.3V342.7M186.9,339.3V342.7" fill="none" stroke="#000" stroke-width="1"/><text x="52.65" y="213.15" font-family="'Liberation Sans', sans-serif" font-size="8.6" text-anchor="end" fill="#222" stroke="#222" stroke-width="0.12">1</text><text x="52.65" y="244.12" font-family="'Liberation Sans', sans-serif" font-size="8.6" text-anchor="end" fill="#222" stroke="#222" stroke-width="0.12">0.75</text><text x="52.65" y="275.1" font-family="'Liberation Sans', sans-serif" font-size="8.6" text-anchor="end" fill="#222" stroke="#222" stroke-width="0.12">0.5</text><text x="52.65" y="306.08" font-family="'Liberation Sans', sans-serif" font-size="8.6" text-anchor="end" fill="#222" stroke="#222" stroke-width="0.12">0.25</text><text x="52.65" y="337.05" font-family="'Liberation Sans', sans-serif" font-size="8.6" text-anchor="end" fill="#222" stroke="#222" stroke-width="0.12">0</text><text x="60.45" y="354.6" font-family="'Liberation Sans', sans-serif" font-size="8.6" text-anchor="middle" fill="#222" stroke="#222" stroke-width="0.12">0</text><text x="85.74" y="354.6" font-family="'Liberation Sans', sans-serif" font-size="8.6" text-anchor="middle" fill="#222" stroke="#222" stroke-width="0.12">2</text><text x="111.03" y="354.6" font-family="'Liberation Sans', sans-serif" font-size="8.6" text-anchor="middle" fill="#222" stroke="#222" stroke-width="0.12">4</text><text x="136.32" y="354.6" font-family="'Liberation Sans', sans-serif" font-size="8.6" text-anchor="middle" fill="#222" stroke="#222" stroke-width="0.12">6</text><text x="161.61" y="354.6" font-family="'Liberation Sans', sans-serif" font-size="8.6" text-anchor="middle" fill="#222" stroke="#222" stroke-width="0.12">8</text><text x="186.9" y="354.6" font-family="'Liberation Sans', sans-serif" font-size="8.6" text-anchor="middle" fill="#222" stroke="#222" stroke-width="0.12">10</text><text transform="translate(124.45,369) scale(0.705,1)" font-family="'Liberation Sans', sans-serif" font-size="10.4" text-anchor="middle" fill="#1a1a1a" stroke="#1a1a1a" stroke-width="0.45">Time (years)</text><text x="148.2" y="330.0" font-family="'Liberation Sans', sans-serif" font-size="8.6" textLength="30.8" lengthAdjust="spacingAndGlyphs" fill="#222" stroke="#222" stroke-width="0.25">p<0.001</text><path d="M60.45,210.6 L61.62,210.6 L61.62,211.05 L63.46,211.05 L63.46,211.76 L65.24,211.76 L65.24,212.44 L66.81,212.44 L66.81,213.04 L68.05,213.04 L68.05,213.52 L70.02,213.52 L70.02,214.78 L72.02,214.78 L72.02,216.95 L73.63,216.95 L73.63,218.71 L75.24,218.71 L75.24,220.42 L76.5,220.42 L76.5,221.56 L77.46,221.56 L77.46,222.43 L78.9,222.43 L78.9,223.73 L80.61,223.73 L80.61,224.73 L81.66,224.73 L81.66,225.28 L83.63,225.28 L83.63,226.31 L84.89,226.31 L84.89,226.97 L86.15,226.97 L86.15,227.62 L87.16,227.62 L87.16,228.04 L89.4,228.04 L89.4,228.92 L91.3,228.92 L91.3,229.67 L93.38,229.67 L93.38,230.49 L95.13,230.49 L95.13,231.35 L96.14,231.35 L96.14,231.85 L97.52,231.85 L97.52,232.53 L99.11,232.53 L99.11,233.32 L100.22,233.32 L100.22,233.86 L102.4,233.86 L102.4,235.07 L103.83,235.07 L103.83,235.88 L104.99,235.88 L104.99,236.53 L107,236.53 L107,237.66 L108.12,237.66 L108.12,238.25 L110.26,238.25 L110.26,239.31 L111.8,239.31 L111.8,240.07 L113.47,240.07 L113.47,240.89 L114.87,240.89 L114.87,241.58 L116.45,241.58 L116.45,242.36 L117.65,242.36 L117.65,242.95 L118.66,242.95 L118.66,243.45 L120.73,243.45 L120.73,244.47 L121.99,244.47 L121.99,245.09 L123.95,245.09 L123.95,245.39 L125.17,245.39 L125.17,245.57 L127.37,245.57 L127.37,245.89 L129.48,245.89 L129.48,246.21 L131.4,246.21 L131.4,246.49 L133.34,246.49 L133.34,246.78 L135.04,246.78 L135.04,247.03 L136.94,247.03 L136.94,247.38 L138.05,247.38 L138.05,247.66 L139.62,247.66 L139.62,248.05 L141.64,248.05 L141.64,248.54 L142.86,248.54 L142.86,248.85 L145,248.85 L145,249.46 L147.1,249.46 L147.1,250.54 L148.58,250.54 L148.58,251.31 L150.01,251.31 L150.01,252.05 L151.55,252.05 L151.55,253.1 L153,253.1 L153,254.15 L155.23,254.15 L155.23,255.3 L156.69,255.3 L157.68,255.3 L158.76,255.3 L160.64,255.3 L162.87,255.3 L164.47,255.3 L166.06,255.3 L167.72,255.3 L169.64,255.3 L170.88,255.3 L172.62,255.3 L174.29,255.3 L176.05,255.3 L177.24,255.3 L178.42,255.3 L179.83,255.3 L181.97,255.3 L183.38,255.3 L185.1,255.3 L186.45,255.3 L187.55,255.3 L187.9,255.3" fill="none" stroke="#284672" stroke-width="1.3" stroke-dasharray="2.2,1.6"/><path d="M60.45,210.6 L61.62,210.6 L61.62,211.05 L63.46,211.05 L63.46,211.76 L65.24,211.76 L65.24,212.44 L66.81,212.44 L66.81,213.04 L68.05,213.04 L68.05,213.52 L70.02,213.52 L70.02,214.78 L72.02,214.78 L72.02,216.95 L73.63,216.95 L73.63,218.71 L75.24,218.71 L75.24,220.42 L76.5,220.42 L76.5,221.56 L77.46,221.56 L77.46,222.43 L78.9,222.43 L78.9,223.73 L80.61,223.73 L80.61,224.73 L81.66,224.73 L81.66,225.28 L83.63,225.28 L83.63,226.31 L84.89,226.31 L84.89,226.97 L86.15,226.97 L86.15,227.62 L87.16,227.62 L87.16,228.04 L89.4,228.04 L89.4,228.92 L91.3,228.92 L91.3,229.67 L93.38,229.67 L93.38,230.49 L95.13,230.49 L95.13,231.35 L96.14,231.35 L96.14,231.85 L97.52,231.85 L97.52,232.53 L99.11,232.53 L99.11,233.32 L100.22,233.32 L100.22,233.86 L102.4,233.86 L102.4,235.07 L103.83,235.07 L103.83,235.88 L104.99,235.88 L104.99,236.53 L107,236.53 L107,237.66 L108.12,237.66 L108.12,238.25 L110.26,238.25 L110.26,239.31 L111.8,239.31 L111.8,240.07 L113.47,240.07 L113.47,240.89 L114.87,240.89 L114.87,241.58 L116.45,241.58 L116.45,242.36 L117.65,242.36 L117.65,242.95 L118.66,242.95 L118.66,243.45 L120.73,243.45 L120.73,244.47 L121.99,244.47 L121.99,245.09 L123.95,245.09 L123.95,245.39 L125.17,245.39 L125.17,245.57 L127.37,245.57 L127.37,245.89 L129.48,245.89 L129.48,246.21 L131.4,246.21 L131.4,246.49 L133.34,246.49 L133.34,246.78 L135.04,246.78 L135.04,247.03 L136.94,247.03 L136.94,247.38 L138.05,247.38 L138.05,247.66 L139.62,247.66 L139.62,248.05 L141.64,248.05 L141.64,248.54 L142.86,248.54 L142.86,248.85 L145,248.85 L145,249.46 L147.1,249.46 L147.1,250.54 L148.58,250.54 L148.58,251.31 L150.01,251.31 L150.01,252.05 L151.55,252.05 L151.55,253.1 L153,253.1 L153,254.15 L155.23,254.15 L155.23,255.3 L156.69,255.3 L157.68,255.3 L158.76,255.3 L160.64,255.3 L162.87,255.3 L164.47,255.3 L166.06,255.3 L167.72,255.3 L169.64,255.3 L170.88,255.3 L172.62,255.3 L174.29,255.3 L176.05,255.3 L177.24,255.3 L178.42,255.3 L179.83,255.3 L181.97,255.3 L183.38,255.3 L185.1,255.3 L186.45,255.3 L187.55,255.3 L187.9,255.3" fill="none" stroke="#284672" stroke-width="2.4" stroke-dasharray="3,0.6" clip-path="url(#cp10)"/><path d="M64.45,210.14v4.0M73.77,216.87v4.0M75.73,218.86v4.0M78.63,221.49v4.0M80.28,222.56v4.0M82.44,223.69v4.0M84.14,224.58v4.0M86.43,225.75v4.0M87.7,226.25v4.0M89.72,227.05v4.0M91.51,227.76v4.0M92.7,228.22v4.0M95.59,229.58v4.0M98.7,231.11v4.0M100.13,231.82v4.0M102.62,233.2v4.0M104.89,234.47v4.0M106.92,235.62v4.0M109.32,236.85v4.0M111.87,238.11v4.0M113.58,238.95v4.0M115.48,239.89v4.0M117.7,240.98v4.0M120.98,242.6v4.0M124.13,243.42v4.0M126.94,243.83v4.0M129.05,244.14v4.0M132.15,244.6v4.0M135.4,245.08v4.0M138.45,245.75v4.0M139.97,246.13v4.0M141.98,246.63v4.0M143.58,247.02v4.0M145.67,247.8v4.0M148.65,249.35v4.0M150.84,250.59v4.0M152.66,251.9v4.0M154.13,252.96v4.0M155.53,253.3v4.0M158.44,253.3v4.0M161.64,253.3v4.0M164.69,253.3v4.0M165.8,253.3v4.0M167.49,253.3v4.0M168.9,253.3v4.0M171.02,253.3v4.0M172.56,253.3v4.0M174.74,253.3v4.0M176.83,253.3v4.0M179.32,253.3v4.0M181.55,253.3v4.0M183.76,253.3v4.0M184.95,253.3v4.0" fill="none" stroke="#284672" stroke-width="1"/><path d="M60.45,210.6 L62.57,210.6 L62.57,214.14 L64.41,214.14 L64.41,217.21 L66.35,217.21 L66.35,220.54 L68.47,220.54 L68.47,224.23 L69.76,224.23 L69.76,226.47 L71.53,226.47 L71.53,229.53 L73.65,229.53 L73.65,231.48 L75.73,231.48 L75.73,233.4 L77.42,233.4 L77.42,234.96 L78.6,234.96 L78.6,236.04 L80.08,236.04 L80.08,237.3 L82.32,237.3 L82.32,239.06 L83.41,239.06 L83.41,239.92 L84.78,239.92 L84.78,241 L86.95,241 L86.95,242.66 L88.49,242.66 L88.49,243.74 L89.72,243.74 L89.72,244.61 L91.08,244.61 L91.08,245.57 L93.2,245.57 L93.2,247.06 L94.59,247.06 L94.59,247.91 L96.1,247.91 L96.1,248.8 L97.86,248.8 L97.86,249.84 L99.86,249.84 L99.86,251.02 L101.45,251.02 L101.45,251.69 L102.51,251.69 L102.51,252.02 L104.2,252.02 L104.2,252.55 L105.21,252.55 L105.21,252.86 L106.29,252.86 L106.29,253.19 L107.49,253.19 L107.49,253.57 L109.34,253.57 L109.34,253.95 L110.66,253.95 L110.66,254.22 L112.51,254.22 L112.51,254.59 L113.68,254.59 L113.68,254.83 L114.79,254.83 L114.79,255.05 L115.78,255.05 L115.78,255.25 L117.64,255.25 L117.64,256.17 L119.7,256.17 L119.7,257.27 L120.94,257.27 L120.94,257.94 L122.2,257.94 L122.2,258.57 L123.18,258.57 L123.18,258.9 L124.97,258.9 L124.97,259.51 L126.31,259.51 L126.31,259.97 L127.45,259.97 L127.45,260.36 L129.24,260.36 L129.24,260.97 L130.96,260.97 L130.96,261.5 L132.5,261.5 L132.5,261.84 L133.65,261.84 L133.65,262.09 L135.43,262.09 L135.43,262.49 L137.1,262.49 L137.1,262.86 L138.61,262.86 L138.61,263.19 L139.78,263.19 L139.78,263.45 L141.93,263.45 L141.93,263.92 L144,263.92 L144,264.32 L145.84,264.32 L145.84,264.59 L148.08,264.59 L148.08,264.92 L149.78,264.92 L149.78,265.17 L151.18,265.17 L151.18,265.38 L152.29,265.38 L152.29,265.54 L154.03,265.54 L154.03,265.8 L155.65,265.8 L155.65,266.04 L157.17,266.04 L157.17,266.27 L159.4,266.27 L159.4,266.67 L161.44,266.67 L161.44,267.05 L162.54,267.05 L162.54,267.26 L164.63,267.26 L164.63,267.64 L165.6,267.64 L165.6,267.82 L167.39,267.82 L167.39,268.16 L168.75,268.16 L168.75,268.41 L170.65,268.41 L170.65,268.63 L172.83,268.63 L172.83,268.89 L174.47,268.89 L174.47,269.08 L176.4,269.08 L176.4,269.31 L177.43,269.31 L177.43,269.91 L179.25,269.91 L179.25,272.7 L180.36,272.7 L181.9,272.7 L183.29,272.7 L184.34,272.7 L186.26,272.7 L187.34,272.7 L187.9,272.7" fill="none" stroke="#9C0C33" stroke-width="2.3"/><path d="M63.45,213.71v3.8M65.95,217.96v3.8M69.26,223.71v3.8M72.66,228.67v3.8M75.13,230.95v3.8M76.94,232.62v3.8M78.34,233.91v3.8M80.45,235.69v3.8M81.89,236.82v3.8M83.56,238.14v3.8M86.29,240.29v3.8M88.84,242.09v3.8M92.3,244.53v3.8M93.88,245.58v3.8M95.33,246.44v3.8M96.9,247.37v3.8M99.17,248.71v3.8M100.74,249.57v3.8M103.86,250.54v3.8M106.47,251.35v3.8M110.04,252.19v3.8M111.87,252.56v3.8M115.26,253.25v3.8M117.17,254.02v3.8M120.08,255.57v3.8M123.09,256.97v3.8M124.84,257.57v3.8M126.63,258.18v3.8M127.73,258.56v3.8M130.21,259.4v3.8M132.36,259.91v3.8M134.77,260.44v3.8M135.84,260.68v3.8M136.92,260.92v3.8M139.49,261.48v3.8M141.09,261.83v3.8M144.1,262.43v3.8M146.44,262.78v3.8M147.76,262.97v3.8M150.3,263.35v3.8M152.77,263.71v3.8M154.75,264.01v3.8M157.5,264.42v3.8M160.1,264.9v3.8M162.44,265.34v3.8M164.84,265.78v3.8M166.98,266.18v3.8M168.82,266.51v3.8M170.31,266.69v3.8M172.08,266.9v3.8M173.6,267.08v3.8M174.99,267.24v3.8M177.01,267.48v3.8M179.22,270.8v3.8M180.27,270.8v3.8M181.23,270.8v3.8M183,270.8v3.8M184.7,270.8v3.8M185.68,270.8v3.8M187.71,270.8v3.8" fill="none" stroke="#9C0C33" stroke-width="1"/></g><g><path d="M220.8,206.8V339.3H350.8" fill="none" stroke="#000" stroke-width="1.45"/><path d="M217.5,210.4H220.8M217.5,241.38H220.8M217.5,272.35H220.8M217.5,303.33H220.8M217.5,334.3H220.8M220.8,339.3V342.7M233.45,339.3V342.7M246.09,339.3V342.7M258.74,339.3V342.7M271.38,339.3V342.7M284.02,339.3V342.7M296.67,339.3V342.7M309.31,339.3V342.7M321.96,339.3V342.7M334.61,339.3V342.7M347.25,339.3V342.7" fill="none" stroke="#000" stroke-width="1"/><text x="213" y="213.15" font-family="'Liberation Sans', sans-serif" font-size="8.6" text-anchor="end" fill="#222" stroke="#222" stroke-width="0.12">1</text><text x="213" y="244.12" font-family="'Liberation Sans', sans-serif" font-size="8.6" text-anchor="end" fill="#222" stroke="#222" stroke-width="0.12">0.75</text><text x="213" y="275.1" font-family="'Liberation Sans', sans-serif" font-size="8.6" text-anchor="end" fill="#222" stroke="#222" stroke-width="0.12">0.5</text><text x="213" y="306.08" font-family="'Liberation Sans', sans-serif" font-size="8.6" text-anchor="end" fill="#222" stroke="#222" stroke-width="0.12">0.25</text><text x="213" y="337.05" font-family="'Liberation Sans', sans-serif" font-size="8.6" text-anchor="end" fill="#222" stroke="#222" stroke-width="0.12">0</text><text x="220.8" y="354.6" font-family="'Liberation Sans', sans-serif" font-size="8.6" text-anchor="middle" fill="#222" stroke="#222" stroke-width="0.12">0</text><text x="246.09" y="354.6" font-family="'Liberation Sans', sans-serif" font-size="8.6" text-anchor="middle" fill="#222" stroke="#222" stroke-width="0.12">2</text><text x="271.38" y="354.6" font-family="'Liberation Sans', sans-serif" font-size="8.6" text-anchor="middle" fill="#222" stroke="#222" stroke-width="0.12">4</text><text x="296.67" y="354.6" font-family="'Liberation Sans', sans-serif" font-size="8.6" text-anchor="middle" fill="#222" stroke="#222" stroke-width="0.12">6</text><text x="321.96" y="354.6" font-family="'Liberation Sans', sans-serif" font-size="8.6" text-anchor="middle" fill="#222" stroke="#222" stroke-width="0.12">8</text><text x="347.25" y="354.6" font-family="'Liberation Sans', sans-serif" font-size="8.6" text-anchor="middle" fill="#222" stroke="#222" stroke-width="0.12">10</text><text transform="translate(284.8,369) scale(0.705,1)" font-family="'Liberation Sans', sans-serif" font-size="10.4" text-anchor="middle" fill="#1a1a1a" stroke="#1a1a1a" stroke-width="0.45">Time (years)</text><text x="303.4" y="330.0" font-family="'Liberation Sans', sans-serif" font-size="8.6" textLength="30.8" lengthAdjust="spacingAndGlyphs" fill="#222" stroke="#222" stroke-width="0.25">p=0.002</text><path d="M220.8,210.6 L222.94,210.6 L222.94,210.86 L225.12,210.86 L225.12,211.12 L227.22,211.12 L227.22,211.38 L228.29,211.38 L228.29,211.51 L230.01,211.51 L230.01,211.72 L231.51,211.72 L231.51,212.72 L233.15,212.72 L233.15,214.59 L234.27,214.59 L234.27,215.87 L235.48,215.87 L235.48,217.02 L237.01,217.02 L237.01,218.05 L238.25,218.05 L238.25,218.88 L239.79,218.88 L239.79,219.91 L240.78,219.91 L240.78,220.58 L241.85,220.58 L241.85,221.3 L243.72,221.3 L243.72,222.5 L245.22,222.5 L245.22,223.15 L246.84,223.15 L246.84,223.85 L248.74,223.85 L248.74,224.68 L250.16,224.68 L250.16,225.29 L251.19,225.29 L251.19,225.74 L253.15,225.74 L253.15,226.59 L254.87,226.59 L254.87,227.42 L256.67,227.42 L256.67,228.31 L258.43,228.31 L258.43,229.18 L260.63,229.18 L260.63,230.25 L262.05,230.25 L262.05,230.84 L263.98,230.84 L263.98,231.63 L265.42,231.63 L265.42,232.22 L267.11,232.22 L267.11,232.92 L268.91,232.92 L268.91,233.66 L270.28,233.66 L270.28,234.51 L271.35,234.51 L271.35,235.18 L272.91,235.18 L272.91,236.17 L274.79,236.17 L274.79,237.3 L276.51,237.3 L278.04,237.32 L279.82,237.33 L281.02,237.35 L282.2,237.36 L283.58,237.38 L285.58,237.39 L286.79,237.41 L287.9,237.42 L288.99,237.43 L290,237.44 L291.31,237.45 L293,237.47 L295.01,237.48 L296.4,237.5 L297.83,237.52 L299.16,237.53 L300.51,237.54 L302.46,237.56 L304.13,237.58 L305.42,237.59 L305.42,244.51 L306.51,244.51 L306.51,248.2 L308.48,248.2 L310.34,248.2 L312.36,248.2 L313.63,248.2 L315.29,248.2 L317.42,248.2 L319.14,248.2 L321.31,248.2 L322.48,248.2 L324.69,248.2 L325.72,248.2 L327.22,248.2 L328.21,248.2 L330.2,248.2 L332.04,248.2 L334.25,248.2 L336.24,248.2 L338.41,248.2 L340.06,248.2 L342.29,248.2 L344.21,248.2 L345.61,248.2 L347.82,248.2 L347.9,248.2" fill="none" stroke="#284672" stroke-width="1.3" stroke-dasharray="2.2,1.6"/><path d="M220.8,210.6 L222.94,210.6 L222.94,210.86 L225.12,210.86 L225.12,211.12 L227.22,211.12 L227.22,211.38 L228.29,211.38 L228.29,211.51 L230.01,211.51 L230.01,211.72 L231.51,211.72 L231.51,212.72 L233.15,212.72 L233.15,214.59 L234.27,214.59 L234.27,215.87 L235.48,215.87 L235.48,217.02 L237.01,217.02 L237.01,218.05 L238.25,218.05 L238.25,218.88 L239.79,218.88 L239.79,219.91 L240.78,219.91 L240.78,220.58 L241.85,220.58 L241.85,221.3 L243.72,221.3 L243.72,222.5 L245.22,222.5 L245.22,223.15 L246.84,223.15 L246.84,223.85 L248.74,223.85 L248.74,224.68 L250.16,224.68 L250.16,225.29 L251.19,225.29 L251.19,225.74 L253.15,225.74 L253.15,226.59 L254.87,226.59 L254.87,227.42 L256.67,227.42 L256.67,228.31 L258.43,228.31 L258.43,229.18 L260.63,229.18 L260.63,230.25 L262.05,230.25 L262.05,230.84 L263.98,230.84 L263.98,231.63 L265.42,231.63 L265.42,232.22 L267.11,232.22 L267.11,232.92 L268.91,232.92 L268.91,233.66 L270.28,233.66 L270.28,234.51 L271.35,234.51 L271.35,235.18 L272.91,235.18 L272.91,236.17 L274.79,236.17 L274.79,237.3 L276.51,237.3 L278.04,237.32 L279.82,237.33 L281.02,237.35 L282.2,237.36 L283.58,237.38 L285.58,237.39 L286.79,237.41 L287.9,237.42 L288.99,237.43 L290,237.44 L291.31,237.45 L293,237.47 L295.01,237.48 L296.4,237.5 L297.83,237.52 L299.16,237.53 L300.51,237.54 L302.46,237.56 L304.13,237.58 L305.42,237.59 L305.42,244.51 L306.51,244.51 L306.51,248.2 L308.48,248.2 L310.34,248.2 L312.36,248.2 L313.63,248.2 L315.29,248.2 L317.42,248.2 L319.14,248.2 L321.31,248.2 L322.48,248.2 L324.69,248.2 L325.72,248.2 L327.22,248.2 L328.21,248.2 L330.2,248.2 L332.04,248.2 L334.25,248.2 L336.24,248.2 L338.41,248.2 L340.06,248.2 L342.29,248.2 L344.21,248.2 L345.61,248.2 L347.82,248.2 L347.9,248.2" fill="none" stroke="#284672" stroke-width="2.3" stroke-dasharray="2.4,1.0" clip-path="url(#cp11)"/><path d="M224.8,209.08v4.0M233.43,212.91v4.0M235.42,214.98v4.0M239.46,217.69v4.0M242.24,219.56v4.0M244.76,220.95v4.0M247.89,222.3v4.0M249.76,223.12v4.0M251.7,223.96v4.0M254.28,225.14v4.0M256.33,226.14v4.0M259.6,227.76v4.0M262.17,228.89v4.0M264.64,229.91v4.0M266.82,230.8v4.0M268.84,231.63v4.0M272.24,233.75v4.0M276.17,235.31v4.0M278.55,235.34v4.0M282.2,235.38v4.0M284.48,235.4v4.0M288.01,235.43v4.0M290.08,235.45v4.0M293.07,235.48v4.0M295.61,235.51v4.0M299.45,235.55v4.0M302.98,235.58v4.0M304.68,235.6v4.0M308.58,246.2v4.0M314.82,246.2v4.0M319.47,246.2v4.0M324.26,246.2v4.0M333.7,246.2v4.0M343.06,246.2v4.0M346.42,246.2v4.0" fill="none" stroke="#284672" stroke-width="1"/><path d="M220.8,210.6 L222.99,210.6 L222.99,211.87 L224.13,211.87 L224.13,212.53 L225.12,212.53 L225.12,213.1 L227.35,213.1 L227.35,214.87 L228.55,214.87 L228.55,216.24 L229.66,216.24 L229.66,217.51 L231.46,217.51 L231.46,219.55 L232.86,219.55 L232.86,221.77 L234.96,221.77 L234.96,225.11 L236.22,225.11 L236.22,227.11 L238.4,227.11 L238.4,230.71 L239.77,230.71 L239.77,232.97 L241.5,232.97 L241.5,235.2 L243.66,235.2 L243.66,237.09 L245.49,237.09 L245.49,238.69 L247.64,238.69 L247.64,240.9 L249.5,240.9 L249.5,243 L250.52,243 L250.52,244.14 L252.61,244.14 L252.61,246.33 L254.33,246.33 L254.33,247.8 L255.68,247.8 L255.68,248.97 L256.89,248.97 L256.89,250 L258.94,250 L258.94,251.34 L260.64,251.34 L260.64,252.21 L262.8,252.21 L262.8,253.32 L264.75,253.32 L264.75,254.31 L266.94,254.31 L266.94,254.93 L268.63,254.93 L268.63,255.4 L270.48,255.4 L270.48,255.92 L272.23,255.92 L272.23,256.41 L273.52,256.41 L273.52,256.77 L275.7,256.77 L275.7,257.5 L277.06,257.5 L277.06,258.04 L279.02,258.04 L279.02,258.82 L281.2,258.82 L281.2,259.68 L283,259.68 L283,260.4 L284.14,260.4 L284.14,260.86 L286.15,260.86 L286.15,261.66 L287.97,261.66 L287.97,262.39 L289.17,262.39 L289.17,262.87 L290.19,262.87 L290.19,263.3 L291.83,263.3 L291.83,263.98 L292.83,263.98 L292.83,264.4 L294.97,264.4 L294.97,264.6 L296.58,264.6 L298.2,264.6 L299.69,264.6 L301.49,264.6 L303.63,264.6 L304.98,264.6 L306.42,264.6 L308.13,264.6 L309.47,264.6 L311.19,264.6 L311.19,265.08 L312.84,265.08 L312.84,265.98 L314.36,265.98 L314.36,266.81 L316.18,266.81 L316.18,267.7 L317.82,267.7 L318.89,267.7 L321.12,267.7 L322.54,267.7 L324.05,267.7 L325.53,267.7 L327.68,267.7 L329.86,267.7 L331.47,267.7 L332.94,267.7 L334.03,267.7 L336.13,267.7 L337.31,267.7 L337.31,267.92 L338.97,267.92 L338.97,270.6 L340.38,270.6 L341.76,270.6 L343.18,270.6 L344.38,270.6 L345.39,270.6 L347.04,270.6 L347.9,270.6" fill="none" stroke="#9C0C33" stroke-width="2.0"/><path d="M223.8,210.44v3.8M227.36,212.98v3.8M231.45,217.65v3.8M233.15,220.32v3.8M237.61,227.5v3.8M241.21,233.04v3.8M244.81,236.2v3.8M248.96,240.49v3.8M251.52,243.36v3.8M255.42,246.84v3.8M258.9,249.42v3.8M260.74,250.36v3.8M264.23,252.16v3.8M267.35,253.14v3.8M271.06,254.18v3.8M274.74,255.21v3.8M277.89,256.47v3.8M280.86,257.65v3.8M284.64,259.15v3.8M286.4,259.86v3.8M288.11,260.54v3.8M291.06,261.76v3.8M294.01,262.7v3.8M297.65,262.7v3.8M300.61,262.7v3.8M303.11,262.7v3.8M306.43,262.7v3.8M307.89,262.7v3.8M309.61,262.7v3.8M312.99,264.16v3.8M315.72,265.65v3.8M318.24,265.8v3.8M320.47,265.8v3.8M321.69,265.8v3.8M323.58,265.8v3.8M325.09,265.8v3.8M326.67,265.8v3.8M328.69,265.8v3.8M329.94,265.8v3.8M332.63,265.8v3.8M333.91,265.8v3.8M334.91,265.8v3.8M336.91,265.8v3.8M338.41,268.14v3.8M339.8,268.7v3.8M342.16,268.7v3.8M344.31,268.7v3.8M346.82,268.7v3.8" fill="none" stroke="#9C0C33" stroke-width="1"/></g><g><path d="M380.8,206.8V339.3H510.8" fill="none" stroke="#000" stroke-width="1.45"/><path d="M377.5,210.4H380.8M377.5,241.38H380.8M377.5,272.35H380.8M377.5,303.33H380.8M377.5,334.3H380.8M380.8,339.3V342.7M393.44,339.3V342.7M406.09,339.3V342.7M418.74,339.3V342.7M431.38,339.3V342.7M444.02,339.3V342.7M456.67,339.3V342.7M469.31,339.3V342.7M481.96,339.3V342.7M494.61,339.3V342.7M507.25,339.3V342.7" fill="none" stroke="#000" stroke-width="1"/><text x="373" y="213.15" font-family="'Liberation Sans', sans-serif" font-size="8.6" text-anchor="end" fill="#222" stroke="#222" stroke-width="0.12">1</text><text x="373" y="244.12" font-family="'Liberation Sans', sans-serif" font-size="8.6" text-anchor="end" fill="#222" stroke="#222" stroke-width="0.12">0.75</text><text x="373" y="275.1" font-family="'Liberation Sans', sans-serif" font-size="8.6" text-anchor="end" fill="#222" stroke="#222" stroke-width="0.12">0.5</text><text x="373" y="306.08" font-family="'Liberation Sans', sans-serif" font-size="8.6" text-anchor="end" fill="#222" stroke="#222" stroke-width="0.12">0.25</text><text x="373" y="337.05" font-family="'Liberation Sans', sans-serif" font-size="8.6" text-anchor="end" fill="#222" stroke="#222" stroke-width="0.12">0</text><text x="380.8" y="354.6" font-family="'Liberation Sans', sans-serif" font-size="8.6" text-anchor="middle" fill="#222" stroke="#222" stroke-width="0.12">0</text><text x="406.09" y="354.6" font-family="'Liberation Sans', sans-serif" font-size="8.6" text-anchor="middle" fill="#222" stroke="#222" stroke-width="0.12">2</text><text x="431.38" y="354.6" font-family="'Liberation Sans', sans-serif" font-size="8.6" text-anchor="middle" fill="#222" stroke="#222" stroke-width="0.12">4</text><text x="456.67" y="354.6" font-family="'Liberation Sans', sans-serif" font-size="8.6" text-anchor="middle" fill="#222" stroke="#222" stroke-width="0.12">6</text><text x="481.96" y="354.6" font-family="'Liberation Sans', sans-serif" font-size="8.6" text-anchor="middle" fill="#222" stroke="#222" stroke-width="0.12">8</text><text x="507.25" y="354.6" font-family="'Liberation Sans', sans-serif" font-size="8.6" text-anchor="middle" fill="#222" stroke="#222" stroke-width="0.12">10</text><text transform="translate(444.8,369) scale(0.705,1)" font-family="'Liberation Sans', sans-serif" font-size="10.4" text-anchor="middle" fill="#1a1a1a" stroke="#1a1a1a" stroke-width="0.45">Time (years)</text><text x="463.4" y="330.0" font-family="'Liberation Sans', sans-serif" font-size="8.6" textLength="30.8" lengthAdjust="spacingAndGlyphs" fill="#222" stroke="#222" stroke-width="0.25">p=0.033</text><path d="M380.8,210.6 L382.24,210.6 L382.24,211.26 L384.39,211.26 L384.39,212.24 L386.43,212.24 L386.43,213.17 L387.66,213.17 L387.66,214.44 L389.74,214.44 L389.74,216.67 L391.51,216.67 L391.51,218.56 L392.53,218.56 L392.53,219.68 L394.71,219.68 L394.71,222.21 L395.99,222.21 L395.99,223.7 L397.35,223.7 L397.35,225.27 L398.85,225.27 L398.85,226.72 L400.56,226.72 L400.56,228.22 L401.68,228.22 L401.68,229.2 L403.52,229.2 L403.52,230.81 L405.55,230.81 L405.55,232.05 L407.16,232.05 L407.16,233.04 L409.14,233.04 L409.14,234.25 L410.9,234.25 L410.9,235.33 L412.91,235.33 L412.91,236.41 L414.11,236.41 L414.11,236.94 L415.52,236.94 L415.52,237.58 L417.09,237.58 L417.09,238.27 L418.18,238.27 L418.18,238.76 L420.38,238.76 L420.38,239.75 L422.16,239.75 L422.16,240.46 L423.24,240.46 L423.24,240.9 L424.95,240.9 L424.95,241.58 L426.44,241.58 L426.44,242.18 L427.64,242.18 L427.64,242.66 L428.81,242.66 L428.81,243.12 L430.36,243.12 L430.36,243.97 L431.41,243.97 L431.41,244.56 L433.09,244.56 L433.09,245.51 L434.71,245.51 L434.71,246.42 L435.83,246.42 L435.83,247.06 L437.91,247.06 L437.91,248.2 L438.92,248.2 L438.92,248.7 L440.1,248.7 L440.1,249.27 L442.11,249.27 L442.11,250.23 L443.35,250.23 L443.35,250.52 L444.85,250.52 L444.85,250.88 L446.53,250.88 L446.53,251.28 L448.05,251.28 L448.05,251.65 L449.64,251.65 L449.64,252.03 L451.25,252.03 L451.25,252.41 L452.83,252.41 L452.83,252.79 L453.86,252.79 L453.86,253.1 L455.86,253.1 L455.86,253.81 L457.19,253.81 L457.19,254.27 L458.21,254.27 L458.21,254.63 L459.69,254.63 L459.69,255.16 L461.69,255.16 L461.69,255.87 L463.46,255.87 L463.46,256.42 L465,256.42 L465,256.53 L466.57,256.53 L466.57,256.64 L467.82,256.64 L467.82,256.72 L469.57,256.72 L469.57,256.85 L470.97,256.85 L470.97,256.94 L472.02,256.94 L472.02,257.02 L473.14,257.02 L473.14,257.1 L474.22,257.1 L474.22,259.51 L476.06,259.51 L476.06,260.4 L478.15,260.4 L480.07,260.4 L481.32,260.4 L482.46,260.4 L484.64,260.4 L486.08,260.4 L487.25,260.4 L488.94,260.4 L490.7,260.4 L492.35,260.4 L493.89,260.4 L495.24,260.4 L496.83,260.4 L498.37,260.4 L500.21,260.4 L501.74,260.4 L503.16,260.4 L505.38,260.4 L506.48,260.4 L507.2,260.4" fill="none" stroke="#284672" stroke-width="1.3" stroke-dasharray="2.2,1.6"/><path d="M380.8,210.6 L382.24,210.6 L382.24,211.26 L384.39,211.26 L384.39,212.24 L386.43,212.24 L386.43,213.17 L387.66,213.17 L387.66,214.44 L389.74,214.44 L389.74,216.67 L391.51,216.67 L391.51,218.56 L392.53,218.56 L392.53,219.68 L394.71,219.68 L394.71,222.21 L395.99,222.21 L395.99,223.7 L397.35,223.7 L397.35,225.27 L398.85,225.27 L398.85,226.72 L400.56,226.72 L400.56,228.22 L401.68,228.22 L401.68,229.2 L403.52,229.2 L403.52,230.81 L405.55,230.81 L405.55,232.05 L407.16,232.05 L407.16,233.04 L409.14,233.04 L409.14,234.25 L410.9,234.25 L410.9,235.33 L412.91,235.33 L412.91,236.41 L414.11,236.41 L414.11,236.94 L415.52,236.94 L415.52,237.58 L417.09,237.58 L417.09,238.27 L418.18,238.27 L418.18,238.76 L420.38,238.76 L420.38,239.75 L422.16,239.75 L422.16,240.46 L423.24,240.46 L423.24,240.9 L424.95,240.9 L424.95,241.58 L426.44,241.58 L426.44,242.18 L427.64,242.18 L427.64,242.66 L428.81,242.66 L428.81,243.12 L430.36,243.12 L430.36,243.97 L431.41,243.97 L431.41,244.56 L433.09,244.56 L433.09,245.51 L434.71,245.51 L434.71,246.42 L435.83,246.42 L435.83,247.06 L437.91,247.06 L437.91,248.2 L438.92,248.2 L438.92,248.7 L440.1,248.7 L440.1,249.27 L442.11,249.27 L442.11,250.23 L443.35,250.23 L443.35,250.52 L444.85,250.52 L444.85,250.88 L446.53,250.88 L446.53,251.28 L448.05,251.28 L448.05,251.65 L449.64,251.65 L449.64,252.03 L451.25,252.03 L451.25,252.41 L452.83,252.41 L452.83,252.79 L453.86,252.79 L453.86,253.1 L455.86,253.1 L455.86,253.81 L457.19,253.81 L457.19,254.27 L458.21,254.27 L458.21,254.63 L459.69,254.63 L459.69,255.16 L461.69,255.16 L461.69,255.87 L463.46,255.87 L463.46,256.42 L465,256.42 L465,256.53 L466.57,256.53 L466.57,256.64 L467.82,256.64 L467.82,256.72 L469.57,256.72 L469.57,256.85 L470.97,256.85 L470.97,256.94 L472.02,256.94 L472.02,257.02 L473.14,257.02 L473.14,257.1 L474.22,257.1 L474.22,259.51 L476.06,259.51 L476.06,260.4 L478.15,260.4 L480.07,260.4 L481.32,260.4 L482.46,260.4 L484.64,260.4 L486.08,260.4 L487.25,260.4 L488.94,260.4 L490.7,260.4 L492.35,260.4 L493.89,260.4 L495.24,260.4 L496.83,260.4 L498.37,260.4 L500.21,260.4 L501.74,260.4 L503.16,260.4 L505.38,260.4 L506.48,260.4 L507.2,260.4" fill="none" stroke="#284672" stroke-width="2.3" stroke-dasharray="2.6,0.9" clip-path="url(#cp12)"/><path d="M384.8,210.42v4.0M391.18,216.21v4.0M394.44,219.9v4.0M397.58,223.54v4.0M400.94,226.55v4.0M404.86,229.63v4.0M408.37,231.78v4.0M410.22,232.91v4.0M412.24,234.11v4.0M414.92,235.3v4.0M417.41,236.42v4.0M421.5,238.2v4.0M424.94,239.58v4.0M427.66,240.66v4.0M430.04,241.79v4.0M432.08,242.94v4.0M435.17,244.68v4.0M439.15,246.81v4.0M441.02,247.72v4.0M443.69,248.6v4.0M446.05,249.17v4.0M449.16,249.91v4.0M451.27,250.42v4.0M452.85,250.79v4.0M456.15,251.91v4.0M458.41,252.71v4.0M461.62,253.84v4.0M465.56,254.57v4.0M468.59,254.78v4.0M472.54,255.05v4.0M476.19,258.4v4.0M477.77,258.4v4.0M479.85,258.4v4.0M483.11,258.4v4.0M485.85,258.4v4.0M487.26,258.4v4.0M490.96,258.4v4.0M494.18,258.4v4.0M496.8,258.4v4.0M499.66,258.4v4.0M501.54,258.4v4.0M504.48,258.4v4.0M506.27,258.4v4.0" fill="none" stroke="#284672" stroke-width="1"/><path d="M380.8,210.6 L382.67,210.6 L382.67,215.51 L384.71,215.51 L384.71,220.86 L385.9,220.86 L385.9,223.99 L388.14,223.99 L388.14,229.84 L389.35,229.84 L389.35,232.79 L391.17,232.79 L391.17,237.24 L392.24,237.24 L392.24,239.87 L394.17,239.87 L394.17,242.85 L395.33,242.85 L395.33,243.18 L397.19,243.18 L397.19,243.72 L399.08,243.72 L399.08,244.48 L401.02,244.48 L401.02,245.37 L402.54,245.37 L402.54,246.06 L404.61,246.06 L404.61,247.18 L406.84,247.18 L406.84,248.55 L407.94,248.55 L407.94,249.23 L409.57,249.23 L409.57,250.19 L411.75,250.19 L411.75,251.32 L413.66,251.32 L413.66,252.31 L415.19,252.31 L415.19,252.93 L416.54,252.93 L416.54,253.04 L418.72,253.04 L418.72,253.22 L419.79,253.22 L419.79,253.31 L421.72,253.31 L421.72,253.47 L423.76,253.47 L423.76,254.16 L424.92,254.16 L424.92,255.31 L426.3,255.31 L426.3,255.4 L427.65,255.4 L427.65,255.48 L429.3,255.48 L429.3,255.59 L430.73,255.59 L430.73,255.68 L432.84,255.68 L432.84,255.81 L434.98,255.81 L434.98,255.94 L436.35,255.94 L436.35,256.03 L438.45,256.03 L438.45,256.75 L439.5,256.75 L439.5,257.47 L440.58,257.47 L440.58,258.21 L442.4,258.21 L442.4,259.45 L444.38,259.45 L444.38,260.34 L446.39,260.34 L446.39,260.92 L448.62,260.92 L448.62,261.56 L450.68,261.56 L450.68,262.13 L451.98,262.13 L451.98,262.31 L453.89,262.31 L453.89,262.58 L456.03,262.58 L456.03,262.88 L457.11,262.88 L457.11,263.04 L458.7,263.04 L458.7,263.26 L459.86,263.26 L459.86,263.42 L461.01,263.42 L461.01,263.73 L462.58,263.73 L462.58,264.32 L464.4,264.32 L464.4,265 L466.6,265 L466.6,265.6 L467.73,265.6 L469.34,265.6 L471.58,265.6 L473.51,265.6 L475.16,265.6 L476.43,265.6 L478.19,265.6 L479.49,265.6 L481.27,265.6 L483.06,265.6 L484.52,265.6 L486.5,265.6 L487.98,265.6 L487.98,266.44 L489.54,266.44 L489.54,268.38 L491.56,268.38 L491.56,269.2 L492.84,269.2 L494.04,269.2 L495.74,269.2 L497.25,269.2 L497.25,269.92 L499.33,269.92 L499.33,274.8 L500.61,274.8 L502.04,274.8 L503.08,274.8 L504.62,274.8 L505.98,274.8 L507.2,274.8" fill="none" stroke="#9C0C33" stroke-width="1.5"/><path d="M383.8,216.58v3.8M387.49,226.25v3.8M393.5,240.14v3.8M398.29,242.22v3.8M400.46,243.22v3.8M404.55,245.25v3.8M407.04,246.78v3.8M409.1,248.04v3.8M414.04,250.6v3.8M419.47,251.38v3.8M423.12,251.69v3.8M427.13,253.55v3.8M429.33,253.69v3.8M431.35,253.82v3.8M434.02,253.98v3.8M435.93,254.1v3.8M440.17,256.03v3.8M442.32,257.5v3.8M445.44,258.74v3.8M447.2,259.25v3.8M449.39,259.88v3.8M452.01,260.41v3.8M455.12,260.85v3.8M457.53,261.19v3.8M460.67,261.7v3.8M463.93,262.92v3.8M465.84,263.64v3.8M468.88,263.7v3.8M470.57,263.7v3.8M473.8,263.7v3.8M477.41,263.7v3.8M481.28,263.7v3.8M484.9,263.7v3.8M487.71,264.21v3.8M491.37,267.3v3.8M494.35,267.3v3.8M497.18,267.3v3.8M498.5,272.9v3.8M499.79,272.9v3.8M501.57,272.9v3.8M504.82,272.9v3.8" fill="none" stroke="#9C0C33" stroke-width="1"/></g><text transform="translate(29.6,273.35) rotate(-90) scale(0.665,1)" font-family="'Liberation Sans', sans-serif" font-size="10.8" text-rendering="geometricPrecision" text-anchor="middle" fill="#1a1a1a" stroke="#1a1a1a" stroke-width="0.45">PFS</text><g><path d="M60.45,376.7V509.2H190.45" fill="none" stroke="#000" stroke-width="1.45"/><path d="M57.15,380.3H60.45M57.15,411.28H60.45M57.15,442.25H60.45M57.15,473.23H60.45M57.15,504.2H60.45M60.45,509.2V512.6M73.09,509.2V512.6M85.74,509.2V512.6M98.39,509.2V512.6M111.03,509.2V512.6M123.67,509.2V512.6M136.32,509.2V512.6M148.97,509.2V512.6M161.61,509.2V512.6M174.25,509.2V512.6M186.9,509.2V512.6" fill="none" stroke="#000" stroke-width="1"/><text x="52.65" y="383.05" font-family="'Liberation Sans', sans-serif" font-size="8.6" text-anchor="end" fill="#222" stroke="#222" stroke-width="0.12">1</text><text x="52.65" y="414.03" font-family="'Liberation Sans', sans-serif" font-size="8.6" text-anchor="end" fill="#222" stroke="#222" stroke-width="0.12">0.75</text><text x="52.65" y="445" font-family="'Liberation Sans', sans-serif" font-size="8.6" text-anchor="end" fill="#222" stroke="#222" stroke-width="0.12">0.5</text><text x="52.65" y="475.98" font-family="'Liberation Sans', sans-serif" font-size="8.6" text-anchor="end" fill="#222" stroke="#222" stroke-width="0.12">0.25</text><text x="52.65" y="506.95" font-family="'Liberation Sans', sans-serif" font-size="8.6" text-anchor="end" fill="#222" stroke="#222" stroke-width="0.12">0</text><text x="60.45" y="524.5" font-family="'Liberation Sans', sans-serif" font-size="8.6" text-anchor="middle" fill="#222" stroke="#222" stroke-width="0.12">0</text><text x="85.74" y="524.5" font-family="'Liberation Sans', sans-serif" font-size="8.6" text-anchor="middle" fill="#222" stroke="#222" stroke-width="0.12">2</text><text x="111.03" y="524.5" font-family="'Liberation Sans', sans-serif" font-size="8.6" text-anchor="middle" fill="#222" stroke="#222" stroke-width="0.12">4</text><text x="136.32" y="524.5" font-family="'Liberation Sans', sans-serif" font-size="8.6" text-anchor="middle" fill="#222" stroke="#222" stroke-width="0.12">6</text><text x="161.61" y="524.5" font-family="'Liberation Sans', sans-serif" font-size="8.6" text-anchor="middle" fill="#222" stroke="#222" stroke-width="0.12">8</text><text x="186.9" y="524.5" font-family="'Liberation Sans', sans-serif" font-size="8.6" text-anchor="middle" fill="#222" stroke="#222" stroke-width="0.12">10</text><text transform="translate(124.45,538.9) scale(0.705,1)" font-family="'Liberation Sans', sans-serif" font-size="10.4" text-anchor="middle" fill="#1a1a1a" stroke="#1a1a1a" stroke-width="0.45">Time (years)</text><text x="148.2" y="501.5" font-family="'Liberation Sans', sans-serif" font-size="8.6" textLength="30.8" lengthAdjust="spacingAndGlyphs" fill="#222" stroke="#222" stroke-width="0.25">p=0.045</text><path d="M60.45,380.3 L61.9,380.3 L63.15,380.3 L64.33,380.3 L66.46,380.3 L68.16,380.3 L70,380.3 L70,380.5 L71.67,380.5 L71.67,381.08 L73.12,381.08 L73.12,381.57 L75.01,381.57 L75.01,382.22 L76.71,382.22 L76.71,382.8 L78.67,382.8 L78.67,383.55 L80.48,383.55 L80.48,384.26 L82.51,384.26 L82.51,385.05 L84.04,385.05 L84.04,385.53 L85.19,385.53 L85.19,385.77 L86.35,385.77 L86.35,386.01 L88.23,386.01 L88.23,386.4 L89.41,386.4 L89.41,386.64 L91.2,386.64 L91.2,387.01 L92.96,387.01 L92.96,387.37 L93.99,387.37 L93.99,387.59 L95.96,387.59 L95.96,387.99 L96.96,387.99 L96.96,388.09 L99.03,388.09 L99.03,388.28 L101.07,388.28 L101.07,388.47 L102.3,388.47 L102.3,388.59 L104.19,388.59 L104.19,389.21 L106.09,389.21 L106.09,389.86 L107.21,389.86 L107.21,390.59 L109.03,390.59 L109.03,391.84 L110.15,391.84 L110.15,392.61 L112.27,392.61 L112.27,394.08 L114.12,394.08 L114.12,395.27 L116.33,395.27 L116.33,396.69 L117.36,396.69 L117.36,397.35 L118.73,397.35 L118.73,397.96 L120.48,397.96 L120.48,398.68 L122.22,398.68 L122.22,399.33 L123.41,399.33 L123.41,399.49 L125.51,399.49 L125.51,399.77 L127.55,399.77 L127.55,400.05 L128.9,400.05 L128.9,400.27 L130.04,400.27 L130.04,400.65 L131.86,400.65 L131.86,401.25 L133.34,401.25 L133.34,401.75 L135.15,401.75 L135.15,402.35 L136.74,402.35 L136.74,402.88 L138.21,402.88 L138.21,403.61 L139.19,403.61 L139.19,404.11 L140.33,404.11 L140.33,404.69 L141.87,404.69 L141.87,405.47 L143.76,405.47 L143.76,406.38 L145.27,406.38 L145.27,406.82 L147.18,406.82 L147.18,407.38 L148.83,407.38 L148.83,407.87 L150.92,407.87 L150.92,408.61 L152.72,408.61 L152.72,409.51 L154.09,409.51 L154.09,410.2 L155.23,410.2 L155.23,410.3 L156.27,410.3 L157.28,410.3 L159.35,410.3 L161.43,410.3 L163.35,410.3 L164.45,410.3 L166.25,410.3 L167.38,410.3 L169.48,410.3 L171.27,410.3 L173.19,410.3 L174.93,410.3 L176.43,410.3 L178.47,410.3 L178.47,418.93 L180.67,418.93 L180.67,419.1 L181.94,419.1 L183.45,419.1 L185.35,419.1 L187.18,419.1 L188,419.1" fill="none" stroke="#284672" stroke-width="1.3" stroke-dasharray="2.2,1.6"/><path d="M60.45,380.3 L61.9,380.3 L63.15,380.3 L64.33,380.3 L66.46,380.3 L68.16,380.3 L70,380.3 L70,380.5 L71.67,380.5 L71.67,381.08 L73.12,381.08 L73.12,381.57 L75.01,381.57 L75.01,382.22 L76.71,382.22 L76.71,382.8 L78.67,382.8 L78.67,383.55 L80.48,383.55 L80.48,384.26 L82.51,384.26 L82.51,385.05 L84.04,385.05 L84.04,385.53 L85.19,385.53 L85.19,385.77 L86.35,385.77 L86.35,386.01 L88.23,386.01 L88.23,386.4 L89.41,386.4 L89.41,386.64 L91.2,386.64 L91.2,387.01 L92.96,387.01 L92.96,387.37 L93.99,387.37 L93.99,387.59 L95.96,387.59 L95.96,387.99 L96.96,387.99 L96.96,388.09 L99.03,388.09 L99.03,388.28 L101.07,388.28 L101.07,388.47 L102.3,388.47 L102.3,388.59 L104.19,388.59 L104.19,389.21 L106.09,389.21 L106.09,389.86 L107.21,389.86 L107.21,390.59 L109.03,390.59 L109.03,391.84 L110.15,391.84 L110.15,392.61 L112.27,392.61 L112.27,394.08 L114.12,394.08 L114.12,395.27 L116.33,395.27 L116.33,396.69 L117.36,396.69 L117.36,397.35 L118.73,397.35 L118.73,397.96 L120.48,397.96 L120.48,398.68 L122.22,398.68 L122.22,399.33 L123.41,399.33 L123.41,399.49 L125.51,399.49 L125.51,399.77 L127.55,399.77 L127.55,400.05 L128.9,400.05 L128.9,400.27 L130.04,400.27 L130.04,400.65 L131.86,400.65 L131.86,401.25 L133.34,401.25 L133.34,401.75 L135.15,401.75 L135.15,402.35 L136.74,402.35 L136.74,402.88 L138.21,402.88 L138.21,403.61 L139.19,403.61 L139.19,404.11 L140.33,404.11 L140.33,404.69 L141.87,404.69 L141.87,405.47 L143.76,405.47 L143.76,406.38 L145.27,406.38 L145.27,406.82 L147.18,406.82 L147.18,407.38 L148.83,407.38 L148.83,407.87 L150.92,407.87 L150.92,408.61 L152.72,408.61 L152.72,409.51 L154.09,409.51 L154.09,410.2 L155.23,410.2 L155.23,410.3 L156.27,410.3 L157.28,410.3 L159.35,410.3 L161.43,410.3 L163.35,410.3 L164.45,410.3 L166.25,410.3 L167.38,410.3 L169.48,410.3 L171.27,410.3 L173.19,410.3 L174.93,410.3 L176.43,410.3 L178.47,410.3 L178.47,418.93 L180.67,418.93 L180.67,419.1 L181.94,419.1 L183.45,419.1 L185.35,419.1 L187.18,419.1 L188,419.1" fill="none" stroke="#284672" stroke-width="2.4" stroke-dasharray="3,0.6" clip-path="url(#cp20)"/><path d="M64.45,378.3v4.0M71.05,378.86v4.0M72.56,379.38v4.0M75.76,380.48v4.0M78.26,381.39v4.0M80.65,382.33v4.0M83.82,383.49v4.0M85.12,383.76v4.0M87.97,384.34v4.0M89.56,384.67v4.0M91.21,385.01v4.0M93.02,385.38v4.0M95.74,385.95v4.0M98.92,386.27v4.0M101.57,386.52v4.0M103.37,386.93v4.0M104.75,387.4v4.0M106.48,388.09v4.0M108.06,389.18v4.0M110.26,390.69v4.0M112.48,392.22v4.0M113.84,393.09v4.0M115.4,394.09v4.0M118.43,395.84v4.0M121.07,396.92v4.0M122.38,397.35v4.0M125.39,397.75v4.0M127.47,398.04v4.0M129.42,398.44v4.0M132.29,399.4v4.0M134.91,400.27v4.0M136.97,400.98v4.0M138.91,401.97v4.0M141.21,403.14v4.0M144.14,404.49v4.0M146.8,405.27v4.0M148.09,405.65v4.0M149.26,405.99v4.0M151.15,406.72v4.0M152.88,407.59v4.0M155.7,408.3v4.0M158.13,408.3v4.0M159.54,408.3v4.0M161.57,408.3v4.0M163.94,408.3v4.0M166.09,408.3v4.0M167.76,408.3v4.0M170.38,408.3v4.0M172.1,408.3v4.0M175.38,408.3v4.0M177.32,409.09v4.0M179.52,417.1v4.0M182.39,417.1v4.0M184.26,417.1v4.0M187.35,417.1v4.0" fill="none" stroke="#284672" stroke-width="1"/><path d="M60.45,380.3 L62,380.3 L64.08,380.3 L65.08,380.3 L66.4,380.3 L66.4,380.56 L68.59,380.56 L68.59,383.33 L70.4,383.33 L70.4,385.63 L71.53,385.63 L71.53,386.59 L72.93,386.59 L72.93,387.6 L75.02,387.6 L75.02,389.09 L76.54,389.09 L76.54,390.17 L77.54,390.17 L77.54,390.82 L79.65,390.82 L79.65,392.07 L80.77,392.07 L80.77,392.74 L82.56,392.74 L82.56,393.8 L84.31,393.8 L84.31,394.66 L85.86,394.66 L85.86,395.28 L88.05,395.28 L88.05,396.15 L89.24,396.15 L89.24,396.62 L90.97,396.62 L90.97,397.32 L92.08,397.32 L92.08,397.78 L94.27,397.78 L94.27,398.69 L95.42,398.69 L95.42,399.16 L97.03,399.16 L97.03,399.8 L99.06,399.8 L99.06,400.59 L101.15,400.59 L101.15,401.41 L102.23,401.41 L102.23,401.84 L104.32,401.84 L104.32,402.47 L106.36,402.47 L106.36,403.07 L107.72,403.07 L107.72,403.48 L109.65,403.48 L109.65,404.06 L110.9,404.06 L110.9,404.43 L112.06,404.43 L112.06,404.78 L113.22,404.78 L113.22,405.13 L114.58,405.13 L114.58,405.54 L116.6,405.54 L116.6,406.57 L118.15,406.57 L118.15,407.47 L120.37,407.47 L120.37,408.76 L122.48,408.76 L122.48,409.86 L123.71,409.86 L123.71,410.28 L125.22,410.28 L125.22,410.79 L126.26,410.79 L126.26,411.14 L127.97,411.14 L127.97,411.72 L129.71,411.72 L129.71,412.3 L131.42,412.3 L131.42,412.79 L132.49,412.79 L132.49,413.08 L134.24,413.08 L134.24,413.56 L135.34,413.56 L135.34,413.86 L137.38,413.86 L137.38,414.42 L138.93,414.42 L138.93,414.84 L140.01,414.84 L140.01,415.15 L142.23,415.15 L142.23,415.78 L144.4,415.78 L144.4,416.39 L145.78,416.39 L145.78,416.78 L147.93,416.78 L147.93,417.4 L149.26,417.4 L149.26,417.75 L150.9,417.75 L150.9,418.07 L152.59,418.07 L152.59,418.4 L154.56,418.4 L154.56,418.79 L155.61,418.79 L155.61,419 L156.62,419 L156.62,419.2 L157.77,419.2 L157.77,419.42 L159.22,419.42 L159.22,419.71 L161.2,419.71 L161.2,420.01 L163.09,420.01 L163.09,420.27 L164.19,420.27 L164.19,420.42 L166.09,420.42 L166.09,420.68 L167.29,420.68 L167.29,420.85 L168.27,420.85 L168.27,420.99 L169.85,420.99 L169.85,421.18 L171.97,421.18 L171.97,421.4 L174.09,421.4 L174.09,421.62 L175.61,421.62 L175.61,421.78 L177.6,421.78 L177.6,423.33 L178.8,423.33 L178.8,424.1 L179.97,424.1 L182.16,424.1 L183.97,424.1 L185.16,424.1 L186.55,424.1 L188,424.1" fill="none" stroke="#9C0C33" stroke-width="2.3"/><path d="M63.45,378.4v3.8M66.98,379.39v3.8M69.03,381.98v3.8M71.1,384.39v3.8M73.24,385.91v3.8M75.7,387.67v3.8M78.38,389.42v3.8M81.61,391.34v3.8M83.55,392.46v3.8M87.22,393.91v3.8M89.52,394.83v3.8M91.79,395.76v3.8M93.55,396.49v3.8M96.28,397.61v3.8M99.18,398.74v3.8M100.91,399.42v3.8M103.85,400.43v3.8M106.33,401.17v3.8M108.24,401.73v3.8M110.18,402.32v3.8M111.55,402.73v3.8M114.5,403.62v3.8M117.95,405.45v3.8M120.71,407.05v3.8M122.34,407.91v3.8M124.17,408.53v3.8M126.91,409.46v3.8M128.17,409.88v3.8M130.51,410.64v3.8M132.97,411.31v3.8M135.14,411.91v3.8M136.57,412.3v3.8M137.82,412.64v3.8M138.86,412.93v3.8M141.71,413.73v3.8M144.37,414.48v3.8M146.16,414.99v3.8M147.88,415.48v3.8M150.06,416.01v3.8M151.97,416.38v3.8M153.46,416.68v3.8M155.61,417.1v3.8M157.26,417.42v3.8M159.6,417.88v3.8M161.61,418.16v3.8M163.01,418.36v3.8M164.84,418.61v3.8M166.77,418.88v3.8M168.57,419.13v3.8M170.81,419.38v3.8M172.75,419.58v3.8M174.27,419.74v3.8M176.68,420.65v3.8M177.62,421.45v3.8M179.16,422.2v3.8M181.17,422.2v3.8M182.1,422.2v3.8M183,422.2v3.8M185.23,422.2v3.8M186.44,422.2v3.8M187.7,422.2v3.8" fill="none" stroke="#9C0C33" stroke-width="1"/></g><g><path d="M220.8,376.7V509.2H350.8" fill="none" stroke="#000" stroke-width="1.45"/><path d="M217.5,380.3H220.8M217.5,411.28H220.8M217.5,442.25H220.8M217.5,473.23H220.8M217.5,504.2H220.8M220.8,509.2V512.6M233.45,509.2V512.6M246.09,509.2V512.6M258.74,509.2V512.6M271.38,509.2V512.6M284.02,509.2V512.6M296.67,509.2V512.6M309.31,509.2V512.6M321.96,509.2V512.6M334.61,509.2V512.6M347.25,509.2V512.6" fill="none" stroke="#000" stroke-width="1"/><text x="213" y="383.05" font-family="'Liberation Sans', sans-serif" font-size="8.6" text-anchor="end" fill="#222" stroke="#222" stroke-width="0.12">1</text><text x="213" y="414.03" font-family="'Liberation Sans', sans-serif" font-size="8.6" text-anchor="end" fill="#222" stroke="#222" stroke-width="0.12">0.75</text><text x="213" y="445" font-family="'Liberation Sans', sans-serif" font-size="8.6" text-anchor="end" fill="#222" stroke="#222" stroke-width="0.12">0.5</text><text x="213" y="475.98" font-family="'Liberation Sans', sans-serif" font-size="8.6" text-anchor="end" fill="#222" stroke="#222" stroke-width="0.12">0.25</text><text x="213" y="506.95" font-family="'Liberation Sans', sans-serif" font-size="8.6" text-anchor="end" fill="#222" stroke="#222" stroke-width="0.12">0</text><text x="220.8" y="524.5" font-family="'Liberation Sans', sans-serif" font-size="8.6" text-anchor="middle" fill="#222" stroke="#222" stroke-width="0.12">0</text><text x="246.09" y="524.5" font-family="'Liberation Sans', sans-serif" font-size="8.6" text-anchor="middle" fill="#222" stroke="#222" stroke-width="0.12">2</text><text x="271.38" y="524.5" font-family="'Liberation Sans', sans-serif" font-size="8.6" text-anchor="middle" fill="#222" stroke="#222" stroke-width="0.12">4</text><text x="296.67" y="524.5" font-family="'Liberation Sans', sans-serif" font-size="8.6" text-anchor="middle" fill="#222" stroke="#222" stroke-width="0.12">6</text><text x="321.96" y="524.5" font-family="'Liberation Sans', sans-serif" font-size="8.6" text-anchor="middle" fill="#222" stroke="#222" stroke-width="0.12">8</text><text x="347.25" y="524.5" font-family="'Liberation Sans', sans-serif" font-size="8.6" text-anchor="middle" fill="#222" stroke="#222" stroke-width="0.12">10</text><text transform="translate(284.8,538.9) scale(0.705,1)" font-family="'Liberation Sans', sans-serif" font-size="10.4" text-anchor="middle" fill="#1a1a1a" stroke="#1a1a1a" stroke-width="0.45">Time (years)</text><text x="303.4" y="501.5" font-family="'Liberation Sans', sans-serif" font-size="8.6" textLength="30.8" lengthAdjust="spacingAndGlyphs" fill="#222" stroke="#222" stroke-width="0.25">p=0.004</text><path d="M220.8,380.3 L221.81,380.3 L223.66,380.3 L224.8,380.3 L226.36,380.3 L228.18,380.3 L230.15,380.3 L231.69,380.3 L233.29,380.3 L233.29,380.48 L234.27,380.48 L234.27,380.62 L235.79,380.62 L235.79,380.83 L237.22,380.83 L237.22,381.07 L239.27,381.07 L239.27,381.68 L240.94,381.68 L240.94,382.17 L242.86,382.17 L242.86,382.74 L244.38,382.74 L244.38,382.95 L245.56,382.95 L245.56,383 L247.61,383 L247.61,383.1 L249.62,383.1 L249.62,383.2 L251.06,383.2 L251.06,383.26 L252.15,383.26 L252.15,383.32 L253.76,383.32 L253.76,383.39 L255.36,383.39 L255.36,383.47 L257.3,383.47 L257.3,384.07 L259.03,384.07 L259.03,384.82 L260.64,384.82 L260.64,385.2 L262.33,385.2 L263.78,385.2 L264.8,385.2 L265.84,385.2 L268,385.2 L268,386.19 L270.04,386.19 L270.04,387.31 L271.38,387.31 L271.38,388.11 L273.47,388.11 L273.47,391.03 L275.1,391.03 L275.1,393.3 L276.19,393.3 L278.25,393.3 L279.96,393.31 L282.11,393.31 L283.94,393.32 L285.02,393.32 L286.78,393.33 L288.75,393.33 L290.86,393.34 L292.24,393.34 L293.88,393.35 L295.73,393.35 L296.91,393.36 L298.95,393.36 L300.91,393.37 L301.94,393.37 L303.65,393.37 L305.09,393.38 L306.28,393.38 L308.02,393.39 L310.22,393.39 L311.88,393.4 L312.99,393.4 L314.58,393.4 L316.54,393.41 L318.72,393.41 L320.6,393.42 L321.61,393.42 L323.81,393.43 L325.54,393.43 L326.61,393.44 L327.73,393.44 L328.8,393.44 L330.61,393.45 L331.77,393.45 L333.76,393.46 L334.86,393.46 L336.51,393.46 L338.03,393.47 L339.04,393.47 L340,393.48 L342.12,393.48 L344.33,393.48 L345.45,393.49 L347.35,393.49 L348,393.5" fill="none" stroke="#284672" stroke-width="1.3" stroke-dasharray="2.2,1.6"/><path d="M220.8,380.3 L221.81,380.3 L223.66,380.3 L224.8,380.3 L226.36,380.3 L228.18,380.3 L230.15,380.3 L231.69,380.3 L233.29,380.3 L233.29,380.48 L234.27,380.48 L234.27,380.62 L235.79,380.62 L235.79,380.83 L237.22,380.83 L237.22,381.07 L239.27,381.07 L239.27,381.68 L240.94,381.68 L240.94,382.17 L242.86,382.17 L242.86,382.74 L244.38,382.74 L244.38,382.95 L245.56,382.95 L245.56,383 L247.61,383 L247.61,383.1 L249.62,383.1 L249.62,383.2 L251.06,383.2 L251.06,383.26 L252.15,383.26 L252.15,383.32 L253.76,383.32 L253.76,383.39 L255.36,383.39 L255.36,383.47 L257.3,383.47 L257.3,384.07 L259.03,384.07 L259.03,384.82 L260.64,384.82 L260.64,385.2 L262.33,385.2 L263.78,385.2 L264.8,385.2 L265.84,385.2 L268,385.2 L268,386.19 L270.04,386.19 L270.04,387.31 L271.38,387.31 L271.38,388.11 L273.47,388.11 L273.47,391.03 L275.1,391.03 L275.1,393.3 L276.19,393.3 L278.25,393.3 L279.96,393.31 L282.11,393.31 L283.94,393.32 L285.02,393.32 L286.78,393.33 L288.75,393.33 L290.86,393.34 L292.24,393.34 L293.88,393.35 L295.73,393.35 L296.91,393.36 L298.95,393.36 L300.91,393.37 L301.94,393.37 L303.65,393.37 L305.09,393.38 L306.28,393.38 L308.02,393.39 L310.22,393.39 L311.88,393.4 L312.99,393.4 L314.58,393.4 L316.54,393.41 L318.72,393.41 L320.6,393.42 L321.61,393.42 L323.81,393.43 L325.54,393.43 L326.61,393.44 L327.73,393.44 L328.8,393.44 L330.61,393.45 L331.77,393.45 L333.76,393.46 L334.86,393.46 L336.51,393.46 L338.03,393.47 L339.04,393.47 L340,393.48 L342.12,393.48 L344.33,393.48 L345.45,393.49 L347.35,393.49 L348,393.5" fill="none" stroke="#284672" stroke-width="2.3" stroke-dasharray="2.4,1.0" clip-path="url(#cp21)"/><path d="M224.8,378.3v4.0M228.62,378.3v4.0M235.66,378.81v4.0M238.18,379.35v4.0M242.14,380.53v4.0M245.26,380.99v4.0M248.12,381.12v4.0M252.15,381.32v4.0M254.35,381.42v4.0M258.12,382.43v4.0M260.71,383.2v4.0M264,383.2v4.0M268.11,384.25v4.0M271.77,386.65v4.0M274.86,390.97v4.0M278.52,391.31v4.0M279.99,391.31v4.0M282.59,391.32v4.0M286.39,391.33v4.0M289.9,391.34v4.0M292.56,391.35v4.0M294.61,391.35v4.0M296.98,391.36v4.0M299.58,391.37v4.0M301.31,391.37v4.0M305.33,391.38v4.0M312.79,391.4v4.0M319.48,391.42v4.0M323.92,391.43v4.0M329.26,391.45v4.0M335.19,391.46v4.0M339.39,391.48v4.0M344.81,391.49v4.0" fill="none" stroke="#284672" stroke-width="1"/><path d="M220.8,380.3 L222.58,380.3 L222.58,380.61 L223.57,380.61 L223.57,380.79 L224.88,380.79 L224.88,381.02 L226.13,381.02 L226.13,381.24 L228.03,381.24 L228.03,381.57 L229.86,381.57 L229.86,382.6 L231.96,382.6 L231.96,383.87 L233.03,383.87 L233.03,384.51 L234.53,384.51 L234.53,385.42 L235.53,385.42 L235.53,386.17 L236.77,386.17 L236.77,387.09 L238.38,387.09 L238.38,388.29 L239.37,388.29 L239.37,389.03 L240.58,389.03 L240.58,389.61 L242.38,389.61 L242.38,390.35 L244.03,390.35 L244.03,391.03 L245.28,391.03 L245.28,391.54 L246.99,391.54 L246.99,392.12 L248.99,392.12 L248.99,392.72 L249.95,392.72 L249.95,393 L251.95,393 L251.95,393.59 L253.8,393.59 L253.8,394.96 L255.19,394.96 L255.19,396.13 L256.35,396.13 L256.35,396.94 L258.54,396.94 L258.54,397.83 L259.93,397.83 L259.93,398.4 L261.01,398.4 L261.01,398.83 L262.09,398.83 L262.09,399.27 L264.14,399.27 L264.14,400.08 L265.87,400.08 L265.87,400.76 L267.86,400.76 L267.86,401.53 L269.76,401.53 L269.76,402.25 L271.4,402.25 L271.4,402.85 L273.61,402.85 L273.61,403.65 L275.05,403.65 L275.05,404.17 L276.72,404.17 L276.72,404.78 L278.74,404.78 L278.74,406.03 L280.49,406.03 L280.49,407.47 L282.56,407.47 L282.56,408.86 L284.26,408.86 L284.26,409.35 L286.12,409.35 L286.12,409.88 L287.14,409.88 L287.14,410.18 L288.39,410.18 L288.39,410.54 L289.72,410.54 L289.72,410.92 L290.78,410.92 L290.78,411.16 L292.04,411.16 L292.04,411.42 L293.13,411.42 L293.13,411.64 L294.44,411.64 L294.44,411.91 L296.22,411.91 L296.22,412.28 L297.64,412.28 L297.64,412.82 L299.08,412.82 L299.08,413.52 L300.31,413.52 L300.31,414.13 L301.61,414.13 L301.61,414.77 L303.77,414.77 L303.77,415.77 L305.56,415.77 L305.56,416.21 L307.3,416.21 L307.3,416.64 L308.47,416.64 L308.47,416.93 L310.37,416.93 L310.37,417.4 L311.54,417.4 L311.54,417.68 L312.98,417.68 L312.98,417.94 L315.21,417.94 L315.21,418.32 L316.99,418.32 L316.99,418.63 L318.66,418.63 L318.66,418.92 L320.5,418.92 L320.5,419.3 L322.54,419.3 L322.54,419.8 L324.49,419.8 L324.49,420.28 L325.74,420.28 L325.74,420.59 L326.74,420.59 L326.74,420.84 L328.11,420.84 L328.11,421.13 L329.41,421.13 L329.41,421.24 L330.64,421.24 L330.64,421.35 L332.81,421.35 L332.81,421.54 L334.89,421.54 L334.89,421.72 L336.25,421.72 L336.25,422.19 L338.05,422.19 L338.05,423.72 L339.52,423.72 L339.52,424.1 L341.65,424.1 L343.2,424.1 L344.49,424.1 L345.77,424.1 L347.45,424.1 L348,424.1" fill="none" stroke="#9C0C33" stroke-width="2.0"/><path d="M223.8,378.93v3.8M226.29,379.36v3.8M228.26,379.74v3.8M230.83,381.28v3.8M235.13,383.97v3.8M237.47,385.72v3.8M241.49,388.08v3.8M244.16,389.18v3.8M247.1,390.26v3.8M250.78,391.35v3.8M252.48,391.95v3.8M256.55,395.12v3.8M259.86,396.47v3.8M262.06,397.36v3.8M264.01,398.13v3.8M266.85,399.24v3.8M270.54,400.63v3.8M274.48,402.07v3.8M276.08,402.65v3.8M278.37,403.83v3.8M282.21,406.86v3.8M284.24,407.44v3.8M287.5,408.38v3.8M290.36,409.17v3.8M293.38,409.8v3.8M296.26,410.39v3.8M297.75,410.97v3.8M301.38,412.76v3.8M304.47,414.04v3.8M307.67,414.83v3.8M310.43,415.51v3.8M313.61,416.15v3.8M315.9,416.54v3.8M317.21,416.77v3.8M318.96,417.07v3.8M320.63,417.43v3.8M323.82,418.22v3.8M325.33,418.59v3.8M326.46,418.87v3.8M329.36,419.34v3.8M332.03,419.57v3.8M334.24,419.76v3.8M335.99,420.06v3.8M337.34,421.21v3.8M339.33,422.2v3.8M341.77,422.2v3.8M344.28,422.2v3.8M345.35,422.2v3.8M347.21,422.2v3.8" fill="none" stroke="#9C0C33" stroke-width="1"/></g><g><path d="M380.8,376.7V509.2H510.8" fill="none" stroke="#000" stroke-width="1.45"/><path d="M377.5,380.3H380.8M377.5,411.28H380.8M377.5,442.25H380.8M377.5,473.23H380.8M377.5,504.2H380.8M380.8,509.2V512.6M393.44,509.2V512.6M406.09,509.2V512.6M418.74,509.2V512.6M431.38,509.2V512.6M444.02,509.2V512.6M456.67,509.2V512.6M469.31,509.2V512.6M481.96,509.2V512.6M494.61,509.2V512.6M507.25,509.2V512.6" fill="none" stroke="#000" stroke-width="1"/><text x="373" y="383.05" font-family="'Liberation Sans', sans-serif" font-size="8.6" text-anchor="end" fill="#222" stroke="#222" stroke-width="0.12">1</text><text x="373" y="414.03" font-family="'Liberation Sans', sans-serif" font-size="8.6" text-anchor="end" fill="#222" stroke="#222" stroke-width="0.12">0.75</text><text x="373" y="445" font-family="'Liberation Sans', sans-serif" font-size="8.6" text-anchor="end" fill="#222" stroke="#222" stroke-width="0.12">0.5</text><text x="373" y="475.98" font-family="'Liberation Sans', sans-serif" font-size="8.6" text-anchor="end" fill="#222" stroke="#222" stroke-width="0.12">0.25</text><text x="373" y="506.95" font-family="'Liberation Sans', sans-serif" font-size="8.6" text-anchor="end" fill="#222" stroke="#222" stroke-width="0.12">0</text><text x="380.8" y="524.5" font-family="'Liberation Sans', sans-serif" font-size="8.6" text-anchor="middle" fill="#222" stroke="#222" stroke-width="0.12">0</text><text x="406.09" y="524.5" font-family="'Liberation Sans', sans-serif" font-size="8.6" text-anchor="middle" fill="#222" stroke="#222" stroke-width="0.12">2</text><text x="431.38" y="524.5" font-family="'Liberation Sans', sans-serif" font-size="8.6" text-anchor="middle" fill="#222" stroke="#222" stroke-width="0.12">4</text><text x="456.67" y="524.5" font-family="'Liberation Sans', sans-serif" font-size="8.6" text-anchor="middle" fill="#222" stroke="#222" stroke-width="0.12">6</text><text x="481.96" y="524.5" font-family="'Liberation Sans', sans-serif" font-size="8.6" text-anchor="middle" fill="#222" stroke="#222" stroke-width="0.12">8</text><text x="507.25" y="524.5" font-family="'Liberation Sans', sans-serif" font-size="8.6" text-anchor="middle" fill="#222" stroke="#222" stroke-width="0.12">10</text><text transform="translate(444.8,538.9) scale(0.705,1)" font-family="'Liberation Sans', sans-serif" font-size="10.4" text-anchor="middle" fill="#1a1a1a" stroke="#1a1a1a" stroke-width="0.45">Time (years)</text><text x="463.4" y="501.5" font-family="'Liberation Sans', sans-serif" font-size="8.6" textLength="30.8" lengthAdjust="spacingAndGlyphs" fill="#222" stroke="#222" stroke-width="0.25">p=0.251</text><path d="M380.8,380.3 L382.11,380.3 L383.69,380.3 L384.76,380.3 L386.15,380.3 L387.2,380.3 L388.18,380.3 L389.5,380.3 L390.61,380.3 L391.97,380.3 L391.97,380.95 L393.88,380.95 L393.88,381.92 L394.89,381.92 L394.89,382.43 L396.65,382.43 L396.65,383.43 L397.78,383.43 L397.78,384.13 L399.76,384.13 L399.76,385.35 L401.66,385.35 L401.66,386.34 L402.89,386.34 L402.89,386.82 L404.94,386.82 L404.94,387.62 L406.81,387.62 L406.81,388.23 L407.87,388.23 L407.87,388.49 L409.35,388.49 L409.35,388.86 L411.21,388.86 L411.21,389.33 L413.35,389.33 L413.35,389.86 L414.53,389.86 L414.53,390.06 L415.81,390.06 L415.81,390.27 L417.77,390.27 L417.77,390.57 L419.96,390.57 L419.96,390.92 L421.04,390.92 L421.04,391.09 L422.11,391.09 L422.11,391.62 L424.03,391.62 L424.03,392.6 L425.4,392.6 L425.4,393.29 L426.86,393.29 L426.86,394.1 L428.94,394.1 L428.94,395.36 L430.85,395.36 L430.85,396.53 L432.66,396.53 L432.66,397.49 L434.73,397.49 L434.73,398.54 L436.63,398.54 L436.63,399.5 L438.62,399.5 L438.62,400.67 L440.41,400.67 L440.41,401.85 L442.12,401.85 L442.12,402.92 L443.16,402.92 L443.16,403.07 L445.29,403.07 L445.29,403.39 L447.41,403.39 L447.41,403.71 L448.82,403.71 L448.82,403.92 L450.58,403.92 L450.58,404.18 L451.57,404.18 L451.57,404.38 L453.17,404.38 L453.17,405.16 L454.92,405.16 L454.92,406.01 L456.26,406.01 L456.26,406.66 L457.75,406.66 L457.75,407.38 L459.78,407.38 L459.78,408.82 L460.92,408.82 L460.92,409.71 L462.47,409.71 L462.47,410.9 L463.54,410.9 L463.54,411.76 L464.99,411.76 L464.99,414.29 L467.08,414.29 L467.08,416.4 L468.82,416.4 L469.82,416.4 L471.88,416.4 L473.68,416.4 L475.31,416.4 L476.64,416.4 L477.98,416.4 L479.18,416.4 L480.93,416.4 L481.96,416.4 L484.13,416.4 L485.22,416.4 L486.98,416.4 L488.67,416.4 L490.1,416.4 L491.41,416.4 L492.94,416.4 L494.32,416.4 L496.52,416.4 L498.31,416.4 L498.31,429.2 L499.93,429.2 L501.74,429.2 L503.33,429.2 L504.48,429.2 L505.47,429.2 L507.67,429.2 L508,429.2" fill="none" stroke="#284672" stroke-width="1.3" stroke-dasharray="2.2,1.6"/><path d="M380.8,380.3 L382.11,380.3 L383.69,380.3 L384.76,380.3 L386.15,380.3 L387.2,380.3 L388.18,380.3 L389.5,380.3 L390.61,380.3 L391.97,380.3 L391.97,380.95 L393.88,380.95 L393.88,381.92 L394.89,381.92 L394.89,382.43 L396.65,382.43 L396.65,383.43 L397.78,383.43 L397.78,384.13 L399.76,384.13 L399.76,385.35 L401.66,385.35 L401.66,386.34 L402.89,386.34 L402.89,386.82 L404.94,386.82 L404.94,387.62 L406.81,387.62 L406.81,388.23 L407.87,388.23 L407.87,388.49 L409.35,388.49 L409.35,388.86 L411.21,388.86 L411.21,389.33 L413.35,389.33 L413.35,389.86 L414.53,389.86 L414.53,390.06 L415.81,390.06 L415.81,390.27 L417.77,390.27 L417.77,390.57 L419.96,390.57 L419.96,390.92 L421.04,390.92 L421.04,391.09 L422.11,391.09 L422.11,391.62 L424.03,391.62 L424.03,392.6 L425.4,392.6 L425.4,393.29 L426.86,393.29 L426.86,394.1 L428.94,394.1 L428.94,395.36 L430.85,395.36 L430.85,396.53 L432.66,396.53 L432.66,397.49 L434.73,397.49 L434.73,398.54 L436.63,398.54 L436.63,399.5 L438.62,399.5 L438.62,400.67 L440.41,400.67 L440.41,401.85 L442.12,401.85 L442.12,402.92 L443.16,402.92 L443.16,403.07 L445.29,403.07 L445.29,403.39 L447.41,403.39 L447.41,403.71 L448.82,403.71 L448.82,403.92 L450.58,403.92 L450.58,404.18 L451.57,404.18 L451.57,404.38 L453.17,404.38 L453.17,405.16 L454.92,405.16 L454.92,406.01 L456.26,406.01 L456.26,406.66 L457.75,406.66 L457.75,407.38 L459.78,407.38 L459.78,408.82 L460.92,408.82 L460.92,409.71 L462.47,409.71 L462.47,410.9 L463.54,410.9 L463.54,411.76 L464.99,411.76 L464.99,414.29 L467.08,414.29 L467.08,416.4 L468.82,416.4 L469.82,416.4 L471.88,416.4 L473.68,416.4 L475.31,416.4 L476.64,416.4 L477.98,416.4 L479.18,416.4 L480.93,416.4 L481.96,416.4 L484.13,416.4 L485.22,416.4 L486.98,416.4 L488.67,416.4 L490.1,416.4 L491.41,416.4 L492.94,416.4 L494.32,416.4 L496.52,416.4 L498.31,416.4 L498.31,429.2 L499.93,429.2 L501.74,429.2 L503.33,429.2 L504.48,429.2 L505.47,429.2 L507.67,429.2 L508,429.2" fill="none" stroke="#284672" stroke-width="2.3" stroke-dasharray="2.6,0.9" clip-path="url(#cp22)"/><path d="M384.8,378.3v4.0M391.37,378.64v4.0M394.44,380.2v4.0M396.68,381.45v4.0M400.69,383.93v4.0M404.13,385.31v4.0M407.66,386.44v4.0M410.34,387.11v4.0M414.08,387.99v4.0M417.54,388.54v4.0M420.6,389.02v4.0M422.29,389.71v4.0M424.95,391.07v4.0M429.07,393.45v4.0M432.03,395.17v4.0M434.49,396.42v4.0M437.65,398.04v4.0M439.45,399.22v4.0M441.77,400.75v4.0M445.35,401.4v4.0M448.07,401.8v4.0M450.56,402.17v4.0M454.68,403.89v4.0M457.54,405.28v4.0M460.21,407.15v4.0M461.84,408.41v4.0M464.91,412.15v4.0M467.69,414.4v4.0M469.88,414.4v4.0M473.89,414.4v4.0M477.03,414.4v4.0M479.94,414.4v4.0M483.76,414.4v4.0M486.26,414.4v4.0M490.4,414.4v4.0M493.72,414.4v4.0M496.19,414.4v4.0M498.87,427.2v4.0M502.98,427.2v4.0M506.08,427.2v4.0M507.52,427.2v4.0" fill="none" stroke="#284672" stroke-width="1"/><path d="M380.8,380.3 L382.28,380.3 L383.94,380.3 L386,380.3 L386,381.11 L387.19,381.11 L387.19,383.51 L388.43,383.51 L388.43,386.04 L389.43,386.04 L389.43,388.04 L390.54,388.04 L390.54,389.28 L391.51,389.28 L391.51,390.36 L392.67,390.36 L392.67,391.66 L394.29,391.66 L394.29,393.47 L396.52,393.47 L396.52,394.92 L398.36,394.92 L398.36,396.03 L399.81,396.03 L399.81,396.9 L401.29,396.9 L401.29,397.92 L403.13,397.92 L403.13,399.51 L404.51,399.51 L404.51,400.7 L405.56,400.7 L405.56,401.61 L407.6,401.61 L407.6,402.53 L409.35,402.53 L409.35,403.19 L410.45,403.19 L410.45,403.6 L411.5,403.6 L411.5,403.93 L412.59,403.93 L412.59,404.21 L414.77,404.21 L414.77,404.78 L415.87,404.78 L415.87,405.07 L417.63,405.07 L419.83,405.1 L420.84,405.1 L422.29,405.1 L423.86,405.1 L426,405.1 L427.2,405.1 L428.49,405.1 L429.76,405.1 L429.76,405.39 L430.79,405.39 L430.79,405.7 L432.61,405.7 L432.61,406.25 L434.62,406.25 L434.62,406.85 L436.13,406.85 L436.13,407.4 L437.14,407.4 L437.14,407.8 L439.02,407.8 L439.02,408.53 L440.92,408.53 L440.92,409.28 L442.72,409.28 L442.72,409.78 L444.1,409.78 L444.1,409.93 L446.12,409.93 L446.12,410.16 L447.89,410.16 L447.89,411.07 L449.6,411.07 L449.6,413.77 L451.25,413.77 L451.25,414.45 L452.51,414.45 L454.06,414.49 L454.06,414.55 L456.03,414.55 L456.03,414.62 L457.87,414.62 L457.87,414.69 L459.27,414.69 L459.27,414.74 L461.28,414.74 L461.28,414.82 L463.31,414.82 L463.31,414.89 L464.33,414.89 L465.49,414.93 L466.74,414.97 L466.74,415.11 L467.71,415.11 L467.71,415.32 L469.64,415.32 L469.64,415.73 L471.43,415.73 L471.43,416.11 L473.08,416.11 L473.08,416.46 L475.32,416.46 L475.32,416.94 L476.73,416.94 L476.73,417 L477.95,417 L479.05,417 L480.44,417 L482.48,417 L484.21,417 L485.25,417 L486.76,417 L487.79,417 L489.54,417 L490.66,417 L491.85,417 L493.63,417 L495.66,417 L497.41,417 L497.41,422 L498.75,422 L500.54,422 L501.85,422 L502.81,422 L504.12,422 L505.97,422 L507.73,422 L508,422" fill="none" stroke="#9C0C33" stroke-width="1.5"/><path d="M383.8,378.4v3.8M389.06,385.42v3.8M392.03,389.04v3.8M395.25,392.25v3.8M397.33,393.51v3.8M400.16,395.21v3.8M404.96,399.19v3.8M408.53,400.98v3.8M410.68,401.78v3.8M412.59,402.31v3.8M417.88,403.2v3.8M419.94,403.2v3.8M423.47,403.2v3.8M427.04,403.2v3.8M430.04,403.58v3.8M432.61,404.35v3.8M435.43,405.23v3.8M438.56,406.45v3.8M441.66,407.67v3.8M446.19,408.27v3.8M450.64,412.52v3.8M452.39,412.59v3.8M454.78,412.68v3.8M456.37,412.74v3.8M459.42,412.85v3.8M462.87,412.98v3.8M465.81,413.09v3.8M467.51,413.38v3.8M469.85,413.88v3.8M471.76,414.28v3.8M475.23,415.02v3.8M478.82,415.1v3.8M481.83,415.1v3.8M484.51,415.1v3.8M488.15,415.1v3.8M490.99,415.1v3.8M492.74,415.1v3.8M496.22,416.58v3.8M498.92,420.1v3.8M502.21,420.1v3.8M504.23,420.1v3.8M506.65,420.1v3.8" fill="none" stroke="#9C0C33" stroke-width="1"/></g><text transform="translate(29.6,443.25) rotate(-90) scale(0.665,1)" font-family="'Liberation Sans', sans-serif" font-size="10.8" text-rendering="geometricPrecision" text-anchor="middle" fill="#1a1a1a" stroke="#1a1a1a" stroke-width="0.45">TFS</text><path d="M220.6,553.6H246.4" stroke="#8a1a3c" stroke-width="1.0"/><path d="M220.6,553.6h2.2M244.2,553.6h2.2" stroke="#222" stroke-width="1.0"/><text x="249.6" y="556.1" font-family="'Liberation Sans', sans-serif" font-size="8.85" fill="#222" stroke="#222" stroke-width="0.25">No MR</text><path d="M283.8,553.5H309.4" stroke="#333" stroke-width="1.2" stroke-dasharray="2.6,2"/><text x="312.8" y="556.2" font-family="'Liberation Sans', sans-serif" font-size="8.85" fill="#222" stroke="#222" stroke-width="0.25">MR</text></svg>
</body></html>
